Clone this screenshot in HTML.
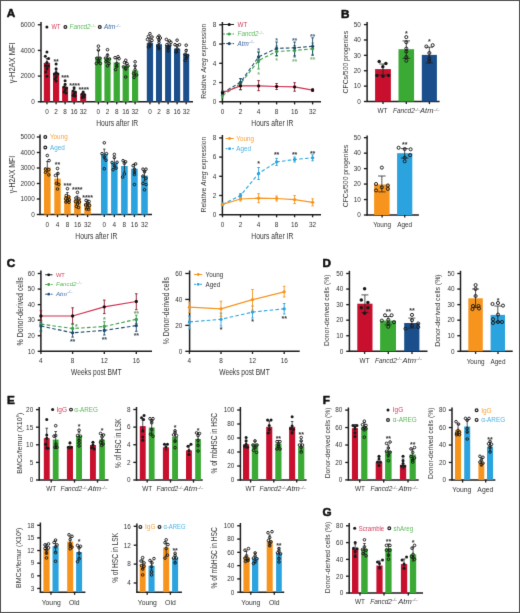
<!DOCTYPE html>
<html><head><meta charset="utf-8"><style>
html,body{margin:0;padding:0;background:#fff}
svg{display:block;will-change:transform}
text{font-family:"Liberation Sans",sans-serif}
</style></head><body>
<svg width="520" height="613" viewBox="0 0 520 613">
<defs><filter id="bl" x="0" y="0" width="520" height="613" filterUnits="userSpaceOnUse" color-interpolation-filters="sRGB"><feConvolveMatrix order="3" kernelMatrix="0 1 0 1 8 1 0 1 0" divisor="12" edgeMode="duplicate" kernelUnitLength="1"/></filter></defs>
<g filter="url(#bl)">
<rect x="0" y="0" width="520" height="613" fill="#fff"/>
<text x="6.8" y="16.8" font-size="11.7" fill="#111" font-weight="bold" stroke="#111" stroke-width="0.55">A</text>
<line x1="41" y1="22" x2="41" y2="102.35" stroke="#1e1e1e" stroke-width="1.5"/>
<line x1="37.8" y1="24.75" x2="41" y2="24.75" stroke="#1e1e1e" stroke-width="1.35"/>
<text x="34.7" y="27.05" font-size="6.4" fill="#333" text-anchor="end">6000</text>
<line x1="37.8" y1="50.42" x2="41" y2="50.42" stroke="#1e1e1e" stroke-width="1.35"/>
<text x="34.7" y="52.72" font-size="6.4" fill="#333" text-anchor="end">4000</text>
<line x1="37.8" y1="76.08" x2="41" y2="76.08" stroke="#1e1e1e" stroke-width="1.35"/>
<text x="34.7" y="78.38" font-size="6.4" fill="#333" text-anchor="end">2000</text>
<line x1="37.8" y1="101.75" x2="41" y2="101.75" stroke="#1e1e1e" stroke-width="1.35"/>
<text x="34.7" y="104.05" font-size="6.4" fill="#333" text-anchor="end">0</text>
<text transform="translate(14.6,62.8) rotate(-90)" font-size="8.6" fill="#333" text-anchor="middle" textLength="41" lengthAdjust="spacingAndGlyphs">γ-H2AX MFI</text>
<line x1="40.4" y1="101.75" x2="193" y2="101.75" stroke="#1e1e1e" stroke-width="1.5"/>
<line x1="46.95" y1="101.75" x2="46.95" y2="104.35" stroke="#1e1e1e" stroke-width="1.35"/>
<text x="46.95" y="113.6" font-size="6.4" fill="#333" text-anchor="middle">0</text>
<line x1="56.1" y1="101.75" x2="56.1" y2="104.35" stroke="#1e1e1e" stroke-width="1.35"/>
<text x="56.1" y="113.6" font-size="6.4" fill="#333" text-anchor="middle">2</text>
<line x1="65.1" y1="101.75" x2="65.1" y2="104.35" stroke="#1e1e1e" stroke-width="1.35"/>
<text x="65.1" y="113.6" font-size="6.4" fill="#333" text-anchor="middle">8</text>
<line x1="74.12" y1="101.75" x2="74.12" y2="104.35" stroke="#1e1e1e" stroke-width="1.35"/>
<text x="74.12" y="113.6" font-size="6.4" fill="#333" text-anchor="middle">16</text>
<line x1="83.2" y1="101.75" x2="83.2" y2="104.35" stroke="#1e1e1e" stroke-width="1.35"/>
<text x="83.2" y="113.6" font-size="6.4" fill="#333" text-anchor="middle">32</text>
<line x1="98.4" y1="101.75" x2="98.4" y2="104.35" stroke="#1e1e1e" stroke-width="1.35"/>
<text x="98.4" y="113.6" font-size="6.4" fill="#333" text-anchor="middle">0</text>
<line x1="107.5" y1="101.75" x2="107.5" y2="104.35" stroke="#1e1e1e" stroke-width="1.35"/>
<text x="107.5" y="113.6" font-size="6.4" fill="#333" text-anchor="middle">2</text>
<line x1="116.75" y1="101.75" x2="116.75" y2="104.35" stroke="#1e1e1e" stroke-width="1.35"/>
<text x="116.75" y="113.6" font-size="6.4" fill="#333" text-anchor="middle">8</text>
<line x1="125.75" y1="101.75" x2="125.75" y2="104.35" stroke="#1e1e1e" stroke-width="1.35"/>
<text x="125.75" y="113.6" font-size="6.4" fill="#333" text-anchor="middle">16</text>
<line x1="135.1" y1="101.75" x2="135.1" y2="104.35" stroke="#1e1e1e" stroke-width="1.35"/>
<text x="135.1" y="113.6" font-size="6.4" fill="#333" text-anchor="middle">32</text>
<line x1="149.95" y1="101.75" x2="149.95" y2="104.35" stroke="#1e1e1e" stroke-width="1.35"/>
<text x="149.95" y="113.6" font-size="6.4" fill="#333" text-anchor="middle">0</text>
<line x1="159" y1="101.75" x2="159" y2="104.35" stroke="#1e1e1e" stroke-width="1.35"/>
<text x="159" y="113.6" font-size="6.4" fill="#333" text-anchor="middle">2</text>
<line x1="168.1" y1="101.75" x2="168.1" y2="104.35" stroke="#1e1e1e" stroke-width="1.35"/>
<text x="168.1" y="113.6" font-size="6.4" fill="#333" text-anchor="middle">8</text>
<line x1="177.1" y1="101.75" x2="177.1" y2="104.35" stroke="#1e1e1e" stroke-width="1.35"/>
<text x="177.1" y="113.6" font-size="6.4" fill="#333" text-anchor="middle">16</text>
<line x1="186.2" y1="101.75" x2="186.2" y2="104.35" stroke="#1e1e1e" stroke-width="1.35"/>
<text x="186.2" y="113.6" font-size="6.4" fill="#333" text-anchor="middle">32</text>
<rect x="43.8" y="62.8" width="6.3" height="38.95" fill="#c8102e"/>
<rect x="53" y="72.9" width="6.2" height="28.85" fill="#c8102e"/>
<rect x="62.1" y="86.8" width="6" height="14.95" fill="#c8102e"/>
<rect x="71.25" y="92.1" width="5.75" height="9.65" fill="#c8102e"/>
<rect x="80.2" y="94" width="6" height="7.75" fill="#c8102e"/>
<rect x="95.2" y="57.2" width="6.4" height="44.55" fill="#3aaa35"/>
<rect x="104.4" y="57.7" width="6.2" height="44.05" fill="#3aaa35"/>
<rect x="113.6" y="62.5" width="6.3" height="39.25" fill="#3aaa35"/>
<rect x="122.6" y="65.9" width="6.3" height="35.85" fill="#3aaa35"/>
<rect x="132" y="70.5" width="6.2" height="31.25" fill="#3aaa35"/>
<rect x="146.8" y="42.8" width="6.3" height="58.95" fill="#1a4f8c"/>
<rect x="156" y="44.2" width="6" height="57.55" fill="#1a4f8c"/>
<rect x="165.1" y="45" width="6" height="56.75" fill="#1a4f8c"/>
<rect x="174" y="48.6" width="6.2" height="53.15" fill="#1a4f8c"/>
<rect x="183.2" y="53.8" width="6" height="47.95" fill="#1a4f8c"/>
<line x1="46.95" y1="58.5" x2="46.95" y2="67.5" stroke="#1e1e1e" stroke-width="0.75"/>
<line x1="45.75" y1="58.5" x2="48.15" y2="58.5" stroke="#1e1e1e" stroke-width="0.75"/>
<line x1="45.75" y1="67.5" x2="48.15" y2="67.5" stroke="#1e1e1e" stroke-width="0.75"/>
<circle cx="46.95" cy="51.9" r="1.5" fill="#1a1a1a"/>
<circle cx="45.35" cy="56.3" r="1.5" fill="#1a1a1a"/>
<circle cx="48.55" cy="58.5" r="1.5" fill="#1a1a1a"/>
<circle cx="46.95" cy="62.5" r="1.5" fill="#1a1a1a"/>
<circle cx="45.45" cy="65.7" r="1.5" fill="#1a1a1a"/>
<circle cx="48.45" cy="66" r="1.5" fill="#1a1a1a"/>
<circle cx="46.95" cy="69" r="1.5" fill="#1a1a1a"/>
<circle cx="45.75" cy="72" r="1.5" fill="#1a1a1a"/>
<circle cx="46.95" cy="76.3" r="1.5" fill="#1a1a1a"/>
<line x1="56.1" y1="70" x2="56.1" y2="76" stroke="#1e1e1e" stroke-width="0.75"/>
<line x1="54.9" y1="70" x2="57.3" y2="70" stroke="#1e1e1e" stroke-width="0.75"/>
<line x1="54.9" y1="76" x2="57.3" y2="76" stroke="#1e1e1e" stroke-width="0.75"/>
<circle cx="56.1" cy="64" r="1.5" fill="#1a1a1a"/>
<circle cx="56.1" cy="68.8" r="1.5" fill="#1a1a1a"/>
<circle cx="56.1" cy="72.4" r="1.5" fill="#1a1a1a"/>
<circle cx="54.4" cy="74" r="1.5" fill="#1a1a1a"/>
<circle cx="57.8" cy="74" r="1.5" fill="#1a1a1a"/>
<circle cx="56.1" cy="77" r="1.5" fill="#1a1a1a"/>
<circle cx="55.1" cy="79" r="1.5" fill="#1a1a1a"/>
<circle cx="56.1" cy="81" r="1.5" fill="#1a1a1a"/>
<line x1="65.1" y1="83.5" x2="65.1" y2="90" stroke="#1e1e1e" stroke-width="0.75"/>
<line x1="63.9" y1="83.5" x2="66.3" y2="83.5" stroke="#1e1e1e" stroke-width="0.75"/>
<line x1="63.9" y1="90" x2="66.3" y2="90" stroke="#1e1e1e" stroke-width="0.75"/>
<circle cx="65.1" cy="80.8" r="1.5" fill="#1a1a1a"/>
<circle cx="65.1" cy="84.4" r="1.5" fill="#1a1a1a"/>
<circle cx="63.9" cy="87" r="1.5" fill="#1a1a1a"/>
<circle cx="66.4" cy="88" r="1.5" fill="#1a1a1a"/>
<circle cx="65.1" cy="90" r="1.5" fill="#1a1a1a"/>
<circle cx="64.1" cy="92" r="1.5" fill="#1a1a1a"/>
<circle cx="66.1" cy="93" r="1.5" fill="#1a1a1a"/>
<line x1="74.12" y1="89.5" x2="74.12" y2="94.5" stroke="#1e1e1e" stroke-width="0.75"/>
<line x1="72.92" y1="89.5" x2="75.33" y2="89.5" stroke="#1e1e1e" stroke-width="0.75"/>
<line x1="72.92" y1="94.5" x2="75.33" y2="94.5" stroke="#1e1e1e" stroke-width="0.75"/>
<circle cx="74.12" cy="87.8" r="1.5" fill="#1a1a1a"/>
<circle cx="72.92" cy="91" r="1.5" fill="#1a1a1a"/>
<circle cx="75.42" cy="92" r="1.5" fill="#1a1a1a"/>
<circle cx="74.12" cy="94" r="1.5" fill="#1a1a1a"/>
<circle cx="73.12" cy="95.5" r="1.5" fill="#1a1a1a"/>
<circle cx="75.12" cy="96" r="1.5" fill="#1a1a1a"/>
<line x1="83.2" y1="92.5" x2="83.2" y2="95.5" stroke="#1e1e1e" stroke-width="0.75"/>
<line x1="82" y1="92.5" x2="84.4" y2="92.5" stroke="#1e1e1e" stroke-width="0.75"/>
<line x1="82" y1="95.5" x2="84.4" y2="95.5" stroke="#1e1e1e" stroke-width="0.75"/>
<circle cx="83.2" cy="92.1" r="1.5" fill="#1a1a1a"/>
<circle cx="82" cy="94" r="1.5" fill="#1a1a1a"/>
<circle cx="84.5" cy="94.5" r="1.5" fill="#1a1a1a"/>
<circle cx="83.2" cy="96" r="1.5" fill="#1a1a1a"/>
<circle cx="82.2" cy="97.5" r="1.5" fill="#1a1a1a"/>
<circle cx="84.2" cy="97" r="1.5" fill="#1a1a1a"/>
<line x1="98.4" y1="50.5" x2="98.4" y2="63" stroke="#1e1e1e" stroke-width="0.75"/>
<line x1="97.2" y1="50.5" x2="99.6" y2="50.5" stroke="#1e1e1e" stroke-width="0.75"/>
<line x1="97.2" y1="63" x2="99.6" y2="63" stroke="#1e1e1e" stroke-width="0.75"/>
<circle cx="98.4" cy="46.2" r="1.3" fill="none" stroke="#1a1a1a" stroke-width="0.95"/>
<circle cx="98.4" cy="50" r="1.3" fill="none" stroke="#1a1a1a" stroke-width="0.95"/>
<circle cx="96.9" cy="58.2" r="1.3" fill="none" stroke="#1a1a1a" stroke-width="0.95"/>
<circle cx="99.9" cy="58.2" r="1.3" fill="none" stroke="#1a1a1a" stroke-width="0.95"/>
<circle cx="98.4" cy="61" r="1.3" fill="none" stroke="#1a1a1a" stroke-width="0.95"/>
<circle cx="96.4" cy="63.5" r="1.3" fill="none" stroke="#1a1a1a" stroke-width="0.95"/>
<circle cx="100.4" cy="63.5" r="1.3" fill="none" stroke="#1a1a1a" stroke-width="0.95"/>
<line x1="107.5" y1="54" x2="107.5" y2="61.5" stroke="#1e1e1e" stroke-width="0.75"/>
<line x1="106.3" y1="54" x2="108.7" y2="54" stroke="#1e1e1e" stroke-width="0.75"/>
<line x1="106.3" y1="61.5" x2="108.7" y2="61.5" stroke="#1e1e1e" stroke-width="0.75"/>
<circle cx="107.5" cy="49.7" r="1.3" fill="none" stroke="#1a1a1a" stroke-width="0.95"/>
<circle cx="107.5" cy="55.3" r="1.3" fill="none" stroke="#1a1a1a" stroke-width="0.95"/>
<circle cx="105.5" cy="58.2" r="1.3" fill="none" stroke="#1a1a1a" stroke-width="0.95"/>
<circle cx="109.5" cy="59" r="1.3" fill="none" stroke="#1a1a1a" stroke-width="0.95"/>
<circle cx="106" cy="61.6" r="1.3" fill="none" stroke="#1a1a1a" stroke-width="0.95"/>
<circle cx="109" cy="63.5" r="1.3" fill="none" stroke="#1a1a1a" stroke-width="0.95"/>
<circle cx="107.5" cy="65.9" r="1.3" fill="none" stroke="#1a1a1a" stroke-width="0.95"/>
<line x1="116.75" y1="58.5" x2="116.75" y2="66.5" stroke="#1e1e1e" stroke-width="0.75"/>
<line x1="115.55" y1="58.5" x2="117.95" y2="58.5" stroke="#1e1e1e" stroke-width="0.75"/>
<line x1="115.55" y1="66.5" x2="117.95" y2="66.5" stroke="#1e1e1e" stroke-width="0.75"/>
<circle cx="115.05" cy="57.7" r="1.3" fill="none" stroke="#1a1a1a" stroke-width="0.95"/>
<circle cx="118.05" cy="56.75" r="1.3" fill="none" stroke="#1a1a1a" stroke-width="0.95"/>
<circle cx="119.05" cy="58.7" r="1.3" fill="none" stroke="#1a1a1a" stroke-width="0.95"/>
<circle cx="116.75" cy="63.5" r="1.3" fill="none" stroke="#1a1a1a" stroke-width="0.95"/>
<circle cx="116.75" cy="66.4" r="1.3" fill="none" stroke="#1a1a1a" stroke-width="0.95"/>
<circle cx="115.55" cy="69.7" r="1.3" fill="none" stroke="#1a1a1a" stroke-width="0.95"/>
<line x1="125.75" y1="62" x2="125.75" y2="70" stroke="#1e1e1e" stroke-width="0.75"/>
<line x1="124.55" y1="62" x2="126.95" y2="62" stroke="#1e1e1e" stroke-width="0.75"/>
<line x1="124.55" y1="70" x2="126.95" y2="70" stroke="#1e1e1e" stroke-width="0.75"/>
<circle cx="125.75" cy="60.3" r="1.3" fill="none" stroke="#1a1a1a" stroke-width="0.95"/>
<circle cx="124.45" cy="62.5" r="1.3" fill="none" stroke="#1a1a1a" stroke-width="0.95"/>
<circle cx="126.95" cy="63.5" r="1.3" fill="none" stroke="#1a1a1a" stroke-width="0.95"/>
<circle cx="123.45" cy="66.8" r="1.3" fill="none" stroke="#1a1a1a" stroke-width="0.95"/>
<circle cx="127.95" cy="66" r="1.3" fill="none" stroke="#1a1a1a" stroke-width="0.95"/>
<circle cx="125.75" cy="68.8" r="1.3" fill="none" stroke="#1a1a1a" stroke-width="0.95"/>
<circle cx="125.75" cy="77" r="1.3" fill="none" stroke="#1a1a1a" stroke-width="0.95"/>
<line x1="135.1" y1="66" x2="135.1" y2="75" stroke="#1e1e1e" stroke-width="0.75"/>
<line x1="133.9" y1="66" x2="136.3" y2="66" stroke="#1e1e1e" stroke-width="0.75"/>
<line x1="133.9" y1="75" x2="136.3" y2="75" stroke="#1e1e1e" stroke-width="0.75"/>
<circle cx="135.1" cy="61.8" r="1.3" fill="none" stroke="#1a1a1a" stroke-width="0.95"/>
<circle cx="135.1" cy="65.9" r="1.3" fill="none" stroke="#1a1a1a" stroke-width="0.95"/>
<circle cx="135.1" cy="69.7" r="1.3" fill="none" stroke="#1a1a1a" stroke-width="0.95"/>
<circle cx="133.6" cy="73.6" r="1.3" fill="none" stroke="#1a1a1a" stroke-width="0.95"/>
<circle cx="136.6" cy="75" r="1.3" fill="none" stroke="#1a1a1a" stroke-width="0.95"/>
<circle cx="134.1" cy="77.4" r="1.3" fill="none" stroke="#1a1a1a" stroke-width="0.95"/>
<line x1="149.95" y1="38.5" x2="149.95" y2="47" stroke="#1e1e1e" stroke-width="0.75"/>
<line x1="148.75" y1="38.5" x2="151.15" y2="38.5" stroke="#1e1e1e" stroke-width="0.75"/>
<line x1="148.75" y1="47" x2="151.15" y2="47" stroke="#1e1e1e" stroke-width="0.75"/>
<circle cx="149.95" cy="33.7" r="1.3" fill="none" stroke="#1a1a1a" stroke-width="0.95"/>
<circle cx="148.45" cy="36.5" r="1.3" fill="none" stroke="#1a1a1a" stroke-width="0.95"/>
<circle cx="151.95" cy="37" r="1.3" fill="none" stroke="#1a1a1a" stroke-width="0.95"/>
<circle cx="147.45" cy="39.4" r="1.3" fill="none" stroke="#1a1a1a" stroke-width="0.95"/>
<circle cx="151.95" cy="40.4" r="1.3" fill="none" stroke="#1a1a1a" stroke-width="0.95"/>
<circle cx="149.95" cy="42" r="1.3" fill="none" stroke="#1a1a1a" stroke-width="0.95"/>
<circle cx="149.95" cy="45" r="1.3" fill="none" stroke="#1a1a1a" stroke-width="0.95"/>
<circle cx="148.45" cy="47" r="1.3" fill="none" stroke="#1a1a1a" stroke-width="0.95"/>
<line x1="159" y1="40" x2="159" y2="48.5" stroke="#1e1e1e" stroke-width="0.75"/>
<line x1="157.8" y1="40" x2="160.2" y2="40" stroke="#1e1e1e" stroke-width="0.75"/>
<line x1="157.8" y1="48.5" x2="160.2" y2="48.5" stroke="#1e1e1e" stroke-width="0.75"/>
<circle cx="159" cy="36" r="1.3" fill="none" stroke="#1a1a1a" stroke-width="0.95"/>
<circle cx="157.8" cy="37.5" r="1.3" fill="none" stroke="#1a1a1a" stroke-width="0.95"/>
<circle cx="160.3" cy="38" r="1.3" fill="none" stroke="#1a1a1a" stroke-width="0.95"/>
<circle cx="159" cy="39.9" r="1.3" fill="none" stroke="#1a1a1a" stroke-width="0.95"/>
<circle cx="159" cy="42.5" r="1.3" fill="none" stroke="#1a1a1a" stroke-width="0.95"/>
<circle cx="158" cy="46" r="1.3" fill="none" stroke="#1a1a1a" stroke-width="0.95"/>
<circle cx="159" cy="48.6" r="1.3" fill="none" stroke="#1a1a1a" stroke-width="0.95"/>
<line x1="168.1" y1="41" x2="168.1" y2="49" stroke="#1e1e1e" stroke-width="0.75"/>
<line x1="166.9" y1="41" x2="169.3" y2="41" stroke="#1e1e1e" stroke-width="0.75"/>
<line x1="166.9" y1="49" x2="169.3" y2="49" stroke="#1e1e1e" stroke-width="0.75"/>
<circle cx="166.4" cy="39.4" r="1.3" fill="none" stroke="#1a1a1a" stroke-width="0.95"/>
<circle cx="169.4" cy="40.9" r="1.3" fill="none" stroke="#1a1a1a" stroke-width="0.95"/>
<circle cx="170.9" cy="42.3" r="1.3" fill="none" stroke="#1a1a1a" stroke-width="0.95"/>
<circle cx="166.9" cy="44.7" r="1.3" fill="none" stroke="#1a1a1a" stroke-width="0.95"/>
<circle cx="169.9" cy="45.2" r="1.3" fill="none" stroke="#1a1a1a" stroke-width="0.95"/>
<circle cx="168.1" cy="48" r="1.3" fill="none" stroke="#1a1a1a" stroke-width="0.95"/>
<circle cx="168.1" cy="51" r="1.3" fill="none" stroke="#1a1a1a" stroke-width="0.95"/>
<line x1="177.1" y1="44.5" x2="177.1" y2="52.5" stroke="#1e1e1e" stroke-width="0.75"/>
<line x1="175.9" y1="44.5" x2="178.3" y2="44.5" stroke="#1e1e1e" stroke-width="0.75"/>
<line x1="175.9" y1="52.5" x2="178.3" y2="52.5" stroke="#1e1e1e" stroke-width="0.75"/>
<circle cx="177.1" cy="40.2" r="1.3" fill="none" stroke="#1a1a1a" stroke-width="0.95"/>
<circle cx="175" cy="44.7" r="1.3" fill="none" stroke="#1a1a1a" stroke-width="0.95"/>
<circle cx="179.5" cy="44.7" r="1.3" fill="none" stroke="#1a1a1a" stroke-width="0.95"/>
<circle cx="177.1" cy="45.7" r="1.3" fill="none" stroke="#1a1a1a" stroke-width="0.95"/>
<circle cx="177.1" cy="49" r="1.3" fill="none" stroke="#1a1a1a" stroke-width="0.95"/>
<circle cx="176.1" cy="52" r="1.3" fill="none" stroke="#1a1a1a" stroke-width="0.95"/>
<line x1="186.2" y1="49.5" x2="186.2" y2="58" stroke="#1e1e1e" stroke-width="0.75"/>
<line x1="185" y1="49.5" x2="187.4" y2="49.5" stroke="#1e1e1e" stroke-width="0.75"/>
<line x1="185" y1="58" x2="187.4" y2="58" stroke="#1e1e1e" stroke-width="0.75"/>
<circle cx="186.2" cy="45.2" r="1.3" fill="none" stroke="#1a1a1a" stroke-width="0.95"/>
<circle cx="186.2" cy="50.5" r="1.3" fill="none" stroke="#1a1a1a" stroke-width="0.95"/>
<circle cx="185" cy="54.3" r="1.3" fill="none" stroke="#1a1a1a" stroke-width="0.95"/>
<circle cx="187.5" cy="55.8" r="1.3" fill="none" stroke="#1a1a1a" stroke-width="0.95"/>
<circle cx="186.2" cy="58" r="1.3" fill="none" stroke="#1a1a1a" stroke-width="0.95"/>
<circle cx="185.2" cy="60.5" r="1.3" fill="none" stroke="#1a1a1a" stroke-width="0.95"/>
<text x="54.8" y="63.5" font-size="7" fill="#333" text-anchor="middle" font-weight="bold">*</text>
<text x="57.4" y="63.5" font-size="7" fill="#333" text-anchor="middle" font-weight="bold">*</text>
<text x="62.5" y="80.1" font-size="7" fill="#333" text-anchor="middle" font-weight="bold">*</text>
<text x="65.1" y="80.1" font-size="7" fill="#333" text-anchor="middle" font-weight="bold">*</text>
<text x="67.7" y="80.1" font-size="7" fill="#333" text-anchor="middle" font-weight="bold">*</text>
<text x="70.7" y="87.5" font-size="7" fill="#333" text-anchor="middle" font-weight="bold">*</text>
<text x="73.3" y="87.5" font-size="7" fill="#333" text-anchor="middle" font-weight="bold">*</text>
<text x="75.9" y="87.5" font-size="7" fill="#333" text-anchor="middle" font-weight="bold">*</text>
<text x="78.5" y="87.5" font-size="7" fill="#333" text-anchor="middle" font-weight="bold">*</text>
<text x="79.85" y="92.1" font-size="7" fill="#333" text-anchor="middle" font-weight="bold">*</text>
<text x="82.45" y="92.1" font-size="7" fill="#333" text-anchor="middle" font-weight="bold">*</text>
<text x="85.05" y="92.1" font-size="7" fill="#333" text-anchor="middle" font-weight="bold">*</text>
<text x="87.65" y="92.1" font-size="7" fill="#333" text-anchor="middle" font-weight="bold">*</text>
<circle cx="46.9" cy="27" r="1.5" fill="#1a1a1a"/>
<text x="51.5" y="29.2" font-size="6.3" fill="#d23c5a" textLength="8.9" lengthAdjust="spacingAndGlyphs">WT</text>
<circle cx="65.4" cy="27" r="1.4" fill="none" stroke="#1a1a1a" stroke-width="1.15"/>
<text x="69.6" y="29.2" font-size="6.3" fill="#5cb85a" font-style="italic">Fancd2<tspan dy="-2.7" font-size="3.9">–/–</tspan></text>
<circle cx="99.8" cy="27" r="1.4" fill="none" stroke="#1a1a1a" stroke-width="1.15"/>
<text x="104" y="29.2" font-size="6.3" fill="#3f68a0" font-style="italic">Atm<tspan dy="-2.7" font-size="3.9">–/–</tspan></text>
<text x="117.2" y="125.8" font-size="8.6" fill="#333" text-anchor="middle" textLength="42" lengthAdjust="spacingAndGlyphs">Hours after IR</text>
<line x1="222.4" y1="22" x2="222.4" y2="102.4" stroke="#1e1e1e" stroke-width="1.5"/>
<line x1="219.2" y1="24.8" x2="222.4" y2="24.8" stroke="#1e1e1e" stroke-width="1.35"/>
<text x="216.3" y="27.1" font-size="6.4" fill="#333" text-anchor="end">8</text>
<line x1="219.2" y1="44.05" x2="222.4" y2="44.05" stroke="#1e1e1e" stroke-width="1.35"/>
<text x="216.3" y="46.35" font-size="6.4" fill="#333" text-anchor="end">6</text>
<line x1="219.2" y1="63.3" x2="222.4" y2="63.3" stroke="#1e1e1e" stroke-width="1.35"/>
<text x="216.3" y="65.6" font-size="6.4" fill="#333" text-anchor="end">4</text>
<line x1="219.2" y1="82.55" x2="222.4" y2="82.55" stroke="#1e1e1e" stroke-width="1.35"/>
<text x="216.3" y="84.85" font-size="6.4" fill="#333" text-anchor="end">2</text>
<line x1="219.2" y1="101.8" x2="222.4" y2="101.8" stroke="#1e1e1e" stroke-width="1.35"/>
<text x="216.3" y="104.1" font-size="6.4" fill="#333" text-anchor="end">0</text>
<text transform="translate(206.4,61.3) rotate(-90)" font-size="6.9" fill="#333" text-anchor="middle" textLength="75" lengthAdjust="spacingAndGlyphs">Relative <tspan font-style="italic">Areg</tspan> expression</text>
<line x1="221.8" y1="101.8" x2="321" y2="101.8" stroke="#1e1e1e" stroke-width="1.5"/>
<line x1="222.5" y1="101.8" x2="222.5" y2="104.4" stroke="#1e1e1e" stroke-width="1.35"/>
<text x="222.5" y="114" font-size="6.4" fill="#333" text-anchor="middle">0</text>
<line x1="240.5" y1="101.8" x2="240.5" y2="104.4" stroke="#1e1e1e" stroke-width="1.35"/>
<text x="240.5" y="114" font-size="6.4" fill="#333" text-anchor="middle">2</text>
<line x1="258.6" y1="101.8" x2="258.6" y2="104.4" stroke="#1e1e1e" stroke-width="1.35"/>
<text x="258.6" y="114" font-size="6.4" fill="#333" text-anchor="middle">4</text>
<line x1="276.6" y1="101.8" x2="276.6" y2="104.4" stroke="#1e1e1e" stroke-width="1.35"/>
<text x="276.6" y="114" font-size="6.4" fill="#333" text-anchor="middle">8</text>
<line x1="294.6" y1="101.8" x2="294.6" y2="104.4" stroke="#1e1e1e" stroke-width="1.35"/>
<text x="294.6" y="114" font-size="6.4" fill="#333" text-anchor="middle">16</text>
<line x1="312.6" y1="101.8" x2="312.6" y2="104.4" stroke="#1e1e1e" stroke-width="1.35"/>
<text x="312.6" y="114" font-size="6.4" fill="#333" text-anchor="middle">32</text>
<text x="272.3" y="126.1" font-size="8.6" fill="#333" text-anchor="middle" textLength="42" lengthAdjust="spacingAndGlyphs">Hours after IR</text>
<polyline points="222.5,95.4 240.5,83.75 258.6,60.5 276.6,51.4 294.6,50.5 312.6,48.8" fill="none" stroke="#3c9e48" stroke-width="1.1" stroke-dasharray="3.6,2.2"/>
<polyline points="222.5,92.8 240.5,82.3 258.6,56.9 276.6,48.4 294.6,47.8 312.6,46.3" fill="none" stroke="#1f4a6a" stroke-width="1.1" stroke-dasharray="3.6,2.2"/>
<polyline points="222.5,92.8 240.5,85.9 258.6,85.9 276.6,86.5 294.6,86.9 312.6,90.1" fill="none" stroke="#d0304e" stroke-width="1.2"/>
<line x1="222.5" y1="93" x2="222.5" y2="98" stroke="#3c9e48" stroke-width="0.9"/>
<line x1="221.2" y1="93" x2="223.8" y2="93" stroke="#3c9e48" stroke-width="0.9"/>
<line x1="221.2" y1="98" x2="223.8" y2="98" stroke="#3c9e48" stroke-width="0.9"/>
<line x1="222.5" y1="91" x2="222.5" y2="94.5" stroke="#1f4a6a" stroke-width="0.9"/>
<line x1="221.2" y1="91" x2="223.8" y2="91" stroke="#1f4a6a" stroke-width="0.9"/>
<line x1="221.2" y1="94.5" x2="223.8" y2="94.5" stroke="#1f4a6a" stroke-width="0.9"/>
<line x1="222.5" y1="91.3" x2="222.5" y2="94.3" stroke="#8a1a2e" stroke-width="0.9"/>
<line x1="221.2" y1="91.3" x2="223.8" y2="91.3" stroke="#8a1a2e" stroke-width="0.9"/>
<line x1="221.2" y1="94.3" x2="223.8" y2="94.3" stroke="#8a1a2e" stroke-width="0.9"/>
<circle cx="222.5" cy="95.4" r="1.65" fill="#3c9e48"/>
<circle cx="222.5" cy="92.8" r="1.65" fill="#1f4a6a"/>
<circle cx="222.5" cy="92.8" r="1.65" fill="#111"/>
<line x1="240.5" y1="79" x2="240.5" y2="90" stroke="#3c9e48" stroke-width="0.9"/>
<line x1="239.2" y1="79" x2="241.8" y2="79" stroke="#3c9e48" stroke-width="0.9"/>
<line x1="239.2" y1="90" x2="241.8" y2="90" stroke="#3c9e48" stroke-width="0.9"/>
<line x1="240.5" y1="78.5" x2="240.5" y2="86" stroke="#1f4a6a" stroke-width="0.9"/>
<line x1="239.2" y1="78.5" x2="241.8" y2="78.5" stroke="#1f4a6a" stroke-width="0.9"/>
<line x1="239.2" y1="86" x2="241.8" y2="86" stroke="#1f4a6a" stroke-width="0.9"/>
<line x1="240.5" y1="82.7" x2="240.5" y2="89.5" stroke="#8a1a2e" stroke-width="0.9"/>
<line x1="239.2" y1="82.7" x2="241.8" y2="82.7" stroke="#8a1a2e" stroke-width="0.9"/>
<line x1="239.2" y1="89.5" x2="241.8" y2="89.5" stroke="#8a1a2e" stroke-width="0.9"/>
<circle cx="240.5" cy="83.75" r="1.65" fill="#3c9e48"/>
<circle cx="240.5" cy="82.3" r="1.65" fill="#1f4a6a"/>
<circle cx="240.5" cy="85.9" r="1.65" fill="#111"/>
<line x1="258.6" y1="52" x2="258.6" y2="69" stroke="#3c9e48" stroke-width="0.9"/>
<line x1="257.3" y1="52" x2="259.9" y2="52" stroke="#3c9e48" stroke-width="0.9"/>
<line x1="257.3" y1="69" x2="259.9" y2="69" stroke="#3c9e48" stroke-width="0.9"/>
<line x1="258.6" y1="52" x2="258.6" y2="62" stroke="#1f4a6a" stroke-width="0.9"/>
<line x1="257.3" y1="52" x2="259.9" y2="52" stroke="#1f4a6a" stroke-width="0.9"/>
<line x1="257.3" y1="62" x2="259.9" y2="62" stroke="#1f4a6a" stroke-width="0.9"/>
<line x1="258.6" y1="80.6" x2="258.6" y2="90.7" stroke="#8a1a2e" stroke-width="0.9"/>
<line x1="257.3" y1="80.6" x2="259.9" y2="80.6" stroke="#8a1a2e" stroke-width="0.9"/>
<line x1="257.3" y1="90.7" x2="259.9" y2="90.7" stroke="#8a1a2e" stroke-width="0.9"/>
<circle cx="258.6" cy="60.5" r="1.65" fill="#3c9e48"/>
<circle cx="258.6" cy="56.9" r="1.65" fill="#1f4a6a"/>
<circle cx="258.6" cy="85.9" r="1.65" fill="#111"/>
<line x1="276.6" y1="46" x2="276.6" y2="56" stroke="#3c9e48" stroke-width="0.9"/>
<line x1="275.3" y1="46" x2="277.9" y2="46" stroke="#3c9e48" stroke-width="0.9"/>
<line x1="275.3" y1="56" x2="277.9" y2="56" stroke="#3c9e48" stroke-width="0.9"/>
<line x1="276.6" y1="42" x2="276.6" y2="55.6" stroke="#1f4a6a" stroke-width="0.9"/>
<line x1="275.3" y1="42" x2="277.9" y2="42" stroke="#1f4a6a" stroke-width="0.9"/>
<line x1="275.3" y1="55.6" x2="277.9" y2="55.6" stroke="#1f4a6a" stroke-width="0.9"/>
<line x1="276.6" y1="83.5" x2="276.6" y2="89.5" stroke="#8a1a2e" stroke-width="0.9"/>
<line x1="275.3" y1="83.5" x2="277.9" y2="83.5" stroke="#8a1a2e" stroke-width="0.9"/>
<line x1="275.3" y1="89.5" x2="277.9" y2="89.5" stroke="#8a1a2e" stroke-width="0.9"/>
<circle cx="276.6" cy="51.4" r="1.65" fill="#3c9e48"/>
<circle cx="276.6" cy="48.4" r="1.65" fill="#1f4a6a"/>
<circle cx="276.6" cy="86.5" r="1.65" fill="#111"/>
<line x1="294.6" y1="45.5" x2="294.6" y2="55.5" stroke="#3c9e48" stroke-width="0.9"/>
<line x1="293.3" y1="45.5" x2="295.9" y2="45.5" stroke="#3c9e48" stroke-width="0.9"/>
<line x1="293.3" y1="55.5" x2="295.9" y2="55.5" stroke="#3c9e48" stroke-width="0.9"/>
<line x1="294.6" y1="42" x2="294.6" y2="56.9" stroke="#1f4a6a" stroke-width="0.9"/>
<line x1="293.3" y1="42" x2="295.9" y2="42" stroke="#1f4a6a" stroke-width="0.9"/>
<line x1="293.3" y1="56.9" x2="295.9" y2="56.9" stroke="#1f4a6a" stroke-width="0.9"/>
<line x1="294.6" y1="82.7" x2="294.6" y2="91.2" stroke="#8a1a2e" stroke-width="0.9"/>
<line x1="293.3" y1="82.7" x2="295.9" y2="82.7" stroke="#8a1a2e" stroke-width="0.9"/>
<line x1="293.3" y1="91.2" x2="295.9" y2="91.2" stroke="#8a1a2e" stroke-width="0.9"/>
<circle cx="294.6" cy="50.5" r="1.65" fill="#3c9e48"/>
<circle cx="294.6" cy="47.8" r="1.65" fill="#1f4a6a"/>
<circle cx="294.6" cy="86.9" r="1.65" fill="#111"/>
<line x1="312.6" y1="43" x2="312.6" y2="55" stroke="#3c9e48" stroke-width="0.9"/>
<line x1="311.3" y1="43" x2="313.9" y2="43" stroke="#3c9e48" stroke-width="0.9"/>
<line x1="311.3" y1="55" x2="313.9" y2="55" stroke="#3c9e48" stroke-width="0.9"/>
<line x1="312.6" y1="37.8" x2="312.6" y2="55.2" stroke="#1f4a6a" stroke-width="0.9"/>
<line x1="311.3" y1="37.8" x2="313.9" y2="37.8" stroke="#1f4a6a" stroke-width="0.9"/>
<line x1="311.3" y1="55.2" x2="313.9" y2="55.2" stroke="#1f4a6a" stroke-width="0.9"/>
<line x1="312.6" y1="88.7" x2="312.6" y2="91.5" stroke="#8a1a2e" stroke-width="0.9"/>
<line x1="311.3" y1="88.7" x2="313.9" y2="88.7" stroke="#8a1a2e" stroke-width="0.9"/>
<line x1="311.3" y1="91.5" x2="313.9" y2="91.5" stroke="#8a1a2e" stroke-width="0.9"/>
<circle cx="312.6" cy="48.8" r="1.65" fill="#3c9e48"/>
<circle cx="312.6" cy="46.3" r="1.65" fill="#1f4a6a"/>
<circle cx="312.6" cy="90.1" r="1.65" fill="#111"/>
<text x="258.6" y="53.1" font-size="7" fill="#4a6a8a" text-anchor="middle" font-weight="bold">*</text>
<text x="276.6" y="43.4" font-size="7" fill="#4a6a8a" text-anchor="middle" font-weight="bold">*</text>
<text x="293.3" y="43.4" font-size="7" fill="#4a6a8a" text-anchor="middle" font-weight="bold">*</text>
<text x="295.9" y="43.4" font-size="7" fill="#4a6a8a" text-anchor="middle" font-weight="bold">*</text>
<text x="311.3" y="39.1" font-size="7" fill="#4a6a8a" text-anchor="middle" font-weight="bold">*</text>
<text x="313.9" y="39.1" font-size="7" fill="#4a6a8a" text-anchor="middle" font-weight="bold">*</text>
<text x="258.6" y="76.8" font-size="7" fill="#7ab87a" text-anchor="middle" font-weight="bold">*</text>
<text x="276.6" y="63.4" font-size="7" fill="#7ab87a" text-anchor="middle" font-weight="bold">*</text>
<text x="293.3" y="63.6" font-size="7" fill="#7ab87a" text-anchor="middle" font-weight="bold">*</text>
<text x="295.9" y="63.6" font-size="7" fill="#7ab87a" text-anchor="middle" font-weight="bold">*</text>
<text x="311.3" y="62" font-size="7" fill="#7ab87a" text-anchor="middle" font-weight="bold">*</text>
<text x="313.9" y="62" font-size="7" fill="#7ab87a" text-anchor="middle" font-weight="bold">*</text>
<line x1="223" y1="24.5" x2="234" y2="24.5" stroke="#222" stroke-width="1"/>
<circle cx="229.2" cy="24.5" r="1.55" fill="#111"/>
<text x="237.6" y="26.7" font-size="6.3" fill="#d23c5a">WT</text>
<line x1="223" y1="34" x2="234" y2="34" stroke="#3c9e48" stroke-width="1" stroke-dasharray="2,1.2"/>
<circle cx="229.2" cy="34" r="1.55" fill="#3c9e48"/>
<text x="237.6" y="36.2" font-size="6.3" fill="#5cb85a" font-style="italic">Fancd2<tspan dy="-2.7" font-size="3.9">–/–</tspan></text>
<line x1="223" y1="43.6" x2="234" y2="43.6" stroke="#1f4a6a" stroke-width="1" stroke-dasharray="2,1.2"/>
<circle cx="229.2" cy="43.6" r="1.55" fill="#1f4a6a"/>
<text x="237.6" y="45.8" font-size="6.3" fill="#3f68a0" font-style="italic">Atm<tspan dy="-2.7" font-size="3.9">–/–</tspan></text>
<line x1="40" y1="134.5" x2="40" y2="215.1" stroke="#1e1e1e" stroke-width="1.5"/>
<line x1="36.8" y1="137" x2="40" y2="137" stroke="#1e1e1e" stroke-width="1.35"/>
<text x="34.7" y="139.3" font-size="6.4" fill="#333" text-anchor="end">5000</text>
<line x1="36.8" y1="152.5" x2="40" y2="152.5" stroke="#1e1e1e" stroke-width="1.35"/>
<text x="34.7" y="154.8" font-size="6.4" fill="#333" text-anchor="end">4000</text>
<line x1="36.8" y1="168" x2="40" y2="168" stroke="#1e1e1e" stroke-width="1.35"/>
<text x="34.7" y="170.3" font-size="6.4" fill="#333" text-anchor="end">3000</text>
<line x1="36.8" y1="183.5" x2="40" y2="183.5" stroke="#1e1e1e" stroke-width="1.35"/>
<text x="34.7" y="185.8" font-size="6.4" fill="#333" text-anchor="end">2000</text>
<line x1="36.8" y1="199" x2="40" y2="199" stroke="#1e1e1e" stroke-width="1.35"/>
<text x="34.7" y="201.3" font-size="6.4" fill="#333" text-anchor="end">1000</text>
<line x1="36.8" y1="214.5" x2="40" y2="214.5" stroke="#1e1e1e" stroke-width="1.35"/>
<text x="34.7" y="216.8" font-size="6.4" fill="#333" text-anchor="end">0</text>
<text transform="translate(14.6,174.6) rotate(-90)" font-size="8.6" fill="#333" text-anchor="middle" textLength="37.3" lengthAdjust="spacingAndGlyphs">γ-H2AX MFI</text>
<line x1="39.4" y1="214.5" x2="152" y2="214.5" stroke="#1e1e1e" stroke-width="1.5"/>
<line x1="47.3" y1="214.5" x2="47.3" y2="217.1" stroke="#1e1e1e" stroke-width="1.35"/>
<text x="47.3" y="226.6" font-size="6.4" fill="#333" text-anchor="middle">0</text>
<line x1="57.5" y1="214.5" x2="57.5" y2="217.1" stroke="#1e1e1e" stroke-width="1.35"/>
<text x="57.5" y="226.6" font-size="6.4" fill="#333" text-anchor="middle">4</text>
<line x1="67.45" y1="214.5" x2="67.45" y2="217.1" stroke="#1e1e1e" stroke-width="1.35"/>
<text x="67.45" y="226.6" font-size="6.4" fill="#333" text-anchor="middle">8</text>
<line x1="77.45" y1="214.5" x2="77.45" y2="217.1" stroke="#1e1e1e" stroke-width="1.35"/>
<text x="77.45" y="226.6" font-size="6.4" fill="#333" text-anchor="middle">16</text>
<line x1="87.6" y1="214.5" x2="87.6" y2="217.1" stroke="#1e1e1e" stroke-width="1.35"/>
<text x="87.6" y="226.6" font-size="6.4" fill="#333" text-anchor="middle">32</text>
<line x1="104.3" y1="214.5" x2="104.3" y2="217.1" stroke="#1e1e1e" stroke-width="1.35"/>
<text x="104.3" y="226.6" font-size="6.4" fill="#333" text-anchor="middle">0</text>
<line x1="114.35" y1="214.5" x2="114.35" y2="217.1" stroke="#1e1e1e" stroke-width="1.35"/>
<text x="114.35" y="226.6" font-size="6.4" fill="#333" text-anchor="middle">4</text>
<line x1="124.4" y1="214.5" x2="124.4" y2="217.1" stroke="#1e1e1e" stroke-width="1.35"/>
<text x="124.4" y="226.6" font-size="6.4" fill="#333" text-anchor="middle">8</text>
<line x1="134.4" y1="214.5" x2="134.4" y2="217.1" stroke="#1e1e1e" stroke-width="1.35"/>
<text x="134.4" y="226.6" font-size="6.4" fill="#333" text-anchor="middle">16</text>
<line x1="144.5" y1="214.5" x2="144.5" y2="217.1" stroke="#1e1e1e" stroke-width="1.35"/>
<text x="144.5" y="226.6" font-size="6.4" fill="#333" text-anchor="middle">32</text>
<rect x="44" y="167.5" width="6.6" height="47" fill="#f7941d"/>
<rect x="54.3" y="178.6" width="6.4" height="35.9" fill="#f7941d"/>
<rect x="64.2" y="196" width="6.5" height="18.5" fill="#f7941d"/>
<rect x="74.1" y="199" width="6.7" height="15.5" fill="#f7941d"/>
<rect x="84.3" y="203" width="6.6" height="11.5" fill="#f7941d"/>
<rect x="101" y="153.9" width="6.6" height="60.6" fill="#2ba3de"/>
<rect x="111.1" y="162.3" width="6.5" height="52.2" fill="#2ba3de"/>
<rect x="121.1" y="166" width="6.6" height="48.5" fill="#2ba3de"/>
<rect x="131.1" y="168.7" width="6.6" height="45.8" fill="#2ba3de"/>
<rect x="141.2" y="175.6" width="6.6" height="38.9" fill="#2ba3de"/>
<line x1="47.3" y1="161.5" x2="47.3" y2="172" stroke="#1e1e1e" stroke-width="0.75"/>
<line x1="46.1" y1="161.5" x2="48.5" y2="161.5" stroke="#1e1e1e" stroke-width="0.75"/>
<line x1="46.1" y1="172" x2="48.5" y2="172" stroke="#1e1e1e" stroke-width="0.75"/>
<circle cx="47.3" cy="155.5" r="1.3" fill="none" stroke="#1a1a1a" stroke-width="0.95"/>
<circle cx="49.1" cy="160.6" r="1.3" fill="none" stroke="#1a1a1a" stroke-width="0.95"/>
<circle cx="45.5" cy="169.1" r="1.3" fill="none" stroke="#1a1a1a" stroke-width="0.95"/>
<circle cx="48.8" cy="169.6" r="1.3" fill="none" stroke="#1a1a1a" stroke-width="0.95"/>
<circle cx="45.5" cy="172.3" r="1.3" fill="none" stroke="#1a1a1a" stroke-width="0.95"/>
<circle cx="48.8" cy="174.9" r="1.3" fill="none" stroke="#1a1a1a" stroke-width="0.95"/>
<line x1="57.5" y1="173" x2="57.5" y2="184" stroke="#1e1e1e" stroke-width="0.75"/>
<line x1="56.3" y1="173" x2="58.7" y2="173" stroke="#1e1e1e" stroke-width="0.75"/>
<line x1="56.3" y1="184" x2="58.7" y2="184" stroke="#1e1e1e" stroke-width="0.75"/>
<circle cx="57.5" cy="168.5" r="1.3" fill="none" stroke="#1a1a1a" stroke-width="0.95"/>
<circle cx="58" cy="173.5" r="1.3" fill="none" stroke="#1a1a1a" stroke-width="0.95"/>
<circle cx="55.5" cy="175.4" r="1.3" fill="none" stroke="#1a1a1a" stroke-width="0.95"/>
<circle cx="56.5" cy="183.4" r="1.3" fill="none" stroke="#1a1a1a" stroke-width="0.95"/>
<circle cx="58.7" cy="184.4" r="1.3" fill="none" stroke="#1a1a1a" stroke-width="0.95"/>
<circle cx="57.5" cy="189" r="1.3" fill="none" stroke="#1a1a1a" stroke-width="0.95"/>
<line x1="67.45" y1="192.5" x2="67.45" y2="199.5" stroke="#1e1e1e" stroke-width="0.75"/>
<line x1="66.25" y1="192.5" x2="68.65" y2="192.5" stroke="#1e1e1e" stroke-width="0.75"/>
<line x1="66.25" y1="199.5" x2="68.65" y2="199.5" stroke="#1e1e1e" stroke-width="0.75"/>
<circle cx="67.45" cy="188.7" r="1.3" fill="none" stroke="#1a1a1a" stroke-width="0.95"/>
<circle cx="66.25" cy="195.5" r="1.3" fill="none" stroke="#1a1a1a" stroke-width="0.95"/>
<circle cx="68.65" cy="196.6" r="1.3" fill="none" stroke="#1a1a1a" stroke-width="0.95"/>
<circle cx="65.65" cy="198.8" r="1.3" fill="none" stroke="#1a1a1a" stroke-width="0.95"/>
<circle cx="69.25" cy="199.8" r="1.3" fill="none" stroke="#1a1a1a" stroke-width="0.95"/>
<circle cx="67.45" cy="201" r="1.3" fill="none" stroke="#1a1a1a" stroke-width="0.95"/>
<circle cx="65.95" cy="202" r="1.3" fill="none" stroke="#1a1a1a" stroke-width="0.95"/>
<circle cx="68.95" cy="202.3" r="1.3" fill="none" stroke="#1a1a1a" stroke-width="0.95"/>
<line x1="77.45" y1="196" x2="77.45" y2="203" stroke="#1e1e1e" stroke-width="0.75"/>
<line x1="76.25" y1="196" x2="78.65" y2="196" stroke="#1e1e1e" stroke-width="0.75"/>
<line x1="76.25" y1="203" x2="78.65" y2="203" stroke="#1e1e1e" stroke-width="0.75"/>
<circle cx="77.45" cy="192.4" r="1.3" fill="none" stroke="#1a1a1a" stroke-width="0.95"/>
<circle cx="75.95" cy="198" r="1.3" fill="none" stroke="#1a1a1a" stroke-width="0.95"/>
<circle cx="78.95" cy="199" r="1.3" fill="none" stroke="#1a1a1a" stroke-width="0.95"/>
<circle cx="75.45" cy="201.5" r="1.3" fill="none" stroke="#1a1a1a" stroke-width="0.95"/>
<circle cx="79.45" cy="202" r="1.3" fill="none" stroke="#1a1a1a" stroke-width="0.95"/>
<circle cx="77.45" cy="204" r="1.3" fill="none" stroke="#1a1a1a" stroke-width="0.95"/>
<circle cx="76.45" cy="206.5" r="1.3" fill="none" stroke="#1a1a1a" stroke-width="0.95"/>
<circle cx="78.45" cy="207.5" r="1.3" fill="none" stroke="#1a1a1a" stroke-width="0.95"/>
<line x1="87.6" y1="200" x2="87.6" y2="206" stroke="#1e1e1e" stroke-width="0.75"/>
<line x1="86.4" y1="200" x2="88.8" y2="200" stroke="#1e1e1e" stroke-width="0.75"/>
<line x1="86.4" y1="206" x2="88.8" y2="206" stroke="#1e1e1e" stroke-width="0.75"/>
<circle cx="86.1" cy="200.5" r="1.3" fill="none" stroke="#1a1a1a" stroke-width="0.95"/>
<circle cx="89.1" cy="201.5" r="1.3" fill="none" stroke="#1a1a1a" stroke-width="0.95"/>
<circle cx="87.6" cy="203" r="1.3" fill="none" stroke="#1a1a1a" stroke-width="0.95"/>
<circle cx="85.6" cy="205" r="1.3" fill="none" stroke="#1a1a1a" stroke-width="0.95"/>
<circle cx="89.6" cy="205.5" r="1.3" fill="none" stroke="#1a1a1a" stroke-width="0.95"/>
<circle cx="87.6" cy="207.5" r="1.3" fill="none" stroke="#1a1a1a" stroke-width="0.95"/>
<circle cx="86.6" cy="209" r="1.3" fill="none" stroke="#1a1a1a" stroke-width="0.95"/>
<circle cx="88.6" cy="209.3" r="1.3" fill="none" stroke="#1a1a1a" stroke-width="0.95"/>
<line x1="104.3" y1="149.1" x2="104.3" y2="159" stroke="#1e1e1e" stroke-width="0.75"/>
<line x1="103.1" y1="149.1" x2="105.5" y2="149.1" stroke="#1e1e1e" stroke-width="0.75"/>
<line x1="103.1" y1="159" x2="105.5" y2="159" stroke="#1e1e1e" stroke-width="0.75"/>
<circle cx="104.3" cy="142.8" r="1.3" fill="none" stroke="#1a1a1a" stroke-width="0.95"/>
<circle cx="102" cy="153.7" r="1.3" fill="none" stroke="#1a1a1a" stroke-width="0.95"/>
<circle cx="106.5" cy="153.7" r="1.3" fill="none" stroke="#1a1a1a" stroke-width="0.95"/>
<circle cx="104.3" cy="157" r="1.3" fill="none" stroke="#1a1a1a" stroke-width="0.95"/>
<circle cx="106" cy="160.2" r="1.3" fill="none" stroke="#1a1a1a" stroke-width="0.95"/>
<circle cx="104.3" cy="168.7" r="1.3" fill="none" stroke="#1a1a1a" stroke-width="0.95"/>
<line x1="114.35" y1="158" x2="114.35" y2="167" stroke="#1e1e1e" stroke-width="0.75"/>
<line x1="113.15" y1="158" x2="115.55" y2="158" stroke="#1e1e1e" stroke-width="0.75"/>
<line x1="113.15" y1="167" x2="115.55" y2="167" stroke="#1e1e1e" stroke-width="0.75"/>
<circle cx="114.35" cy="154.4" r="1.3" fill="none" stroke="#1a1a1a" stroke-width="0.95"/>
<circle cx="114.35" cy="157.6" r="1.3" fill="none" stroke="#1a1a1a" stroke-width="0.95"/>
<circle cx="112.05" cy="162.5" r="1.3" fill="none" stroke="#1a1a1a" stroke-width="0.95"/>
<circle cx="117.05" cy="162.3" r="1.3" fill="none" stroke="#1a1a1a" stroke-width="0.95"/>
<circle cx="114.35" cy="165.5" r="1.3" fill="none" stroke="#1a1a1a" stroke-width="0.95"/>
<circle cx="113.05" cy="169.7" r="1.3" fill="none" stroke="#1a1a1a" stroke-width="0.95"/>
<circle cx="116.05" cy="168.1" r="1.3" fill="none" stroke="#1a1a1a" stroke-width="0.95"/>
<line x1="124.4" y1="161" x2="124.4" y2="172" stroke="#1e1e1e" stroke-width="0.75"/>
<line x1="123.2" y1="161" x2="125.6" y2="161" stroke="#1e1e1e" stroke-width="0.75"/>
<line x1="123.2" y1="172" x2="125.6" y2="172" stroke="#1e1e1e" stroke-width="0.75"/>
<circle cx="123.1" cy="160.7" r="1.3" fill="none" stroke="#1a1a1a" stroke-width="0.95"/>
<circle cx="125.6" cy="161.8" r="1.3" fill="none" stroke="#1a1a1a" stroke-width="0.95"/>
<circle cx="124.4" cy="163.4" r="1.3" fill="none" stroke="#1a1a1a" stroke-width="0.95"/>
<circle cx="124.4" cy="174" r="1.3" fill="none" stroke="#1a1a1a" stroke-width="0.95"/>
<circle cx="122.6" cy="177.1" r="1.3" fill="none" stroke="#1a1a1a" stroke-width="0.95"/>
<line x1="134.4" y1="164" x2="134.4" y2="174" stroke="#1e1e1e" stroke-width="0.75"/>
<line x1="133.2" y1="164" x2="135.6" y2="164" stroke="#1e1e1e" stroke-width="0.75"/>
<line x1="133.2" y1="174" x2="135.6" y2="174" stroke="#1e1e1e" stroke-width="0.75"/>
<circle cx="133.1" cy="165.7" r="1.3" fill="none" stroke="#1a1a1a" stroke-width="0.95"/>
<circle cx="135.6" cy="163.9" r="1.3" fill="none" stroke="#1a1a1a" stroke-width="0.95"/>
<circle cx="134.4" cy="169.2" r="1.3" fill="none" stroke="#1a1a1a" stroke-width="0.95"/>
<circle cx="134.4" cy="171.9" r="1.3" fill="none" stroke="#1a1a1a" stroke-width="0.95"/>
<circle cx="134.4" cy="174.5" r="1.3" fill="none" stroke="#1a1a1a" stroke-width="0.95"/>
<circle cx="134.4" cy="184.5" r="1.3" fill="none" stroke="#1a1a1a" stroke-width="0.95"/>
<line x1="144.5" y1="171" x2="144.5" y2="181" stroke="#1e1e1e" stroke-width="0.75"/>
<line x1="143.3" y1="171" x2="145.7" y2="171" stroke="#1e1e1e" stroke-width="0.75"/>
<line x1="143.3" y1="181" x2="145.7" y2="181" stroke="#1e1e1e" stroke-width="0.75"/>
<circle cx="143" cy="169.2" r="1.3" fill="none" stroke="#1a1a1a" stroke-width="0.95"/>
<circle cx="146" cy="169.2" r="1.3" fill="none" stroke="#1a1a1a" stroke-width="0.95"/>
<circle cx="144.5" cy="171.9" r="1.3" fill="none" stroke="#1a1a1a" stroke-width="0.95"/>
<circle cx="143" cy="176.1" r="1.3" fill="none" stroke="#1a1a1a" stroke-width="0.95"/>
<circle cx="146" cy="178.2" r="1.3" fill="none" stroke="#1a1a1a" stroke-width="0.95"/>
<circle cx="143" cy="183.5" r="1.3" fill="none" stroke="#1a1a1a" stroke-width="0.95"/>
<circle cx="146" cy="184.5" r="1.3" fill="none" stroke="#1a1a1a" stroke-width="0.95"/>
<circle cx="144.5" cy="189.8" r="1.3" fill="none" stroke="#1a1a1a" stroke-width="0.95"/>
<text x="56.2" y="167.4" font-size="7" fill="#333" text-anchor="middle" font-weight="bold">*</text>
<text x="58.8" y="167.4" font-size="7" fill="#333" text-anchor="middle" font-weight="bold">*</text>
<text x="64.9" y="187.7" font-size="7" fill="#333" text-anchor="middle" font-weight="bold">*</text>
<text x="67.5" y="187.7" font-size="7" fill="#333" text-anchor="middle" font-weight="bold">*</text>
<text x="70.1" y="187.7" font-size="7" fill="#333" text-anchor="middle" font-weight="bold">*</text>
<text x="73.4" y="191.5" font-size="7" fill="#333" text-anchor="middle" font-weight="bold">*</text>
<text x="76" y="191.5" font-size="7" fill="#333" text-anchor="middle" font-weight="bold">*</text>
<text x="78.6" y="191.5" font-size="7" fill="#333" text-anchor="middle" font-weight="bold">*</text>
<text x="81.2" y="191.5" font-size="7" fill="#333" text-anchor="middle" font-weight="bold">*</text>
<text x="83.7" y="200.2" font-size="7" fill="#333" text-anchor="middle" font-weight="bold">*</text>
<text x="86.3" y="200.2" font-size="7" fill="#333" text-anchor="middle" font-weight="bold">*</text>
<text x="88.9" y="200.2" font-size="7" fill="#333" text-anchor="middle" font-weight="bold">*</text>
<text x="91.5" y="200.2" font-size="7" fill="#333" text-anchor="middle" font-weight="bold">*</text>
<circle cx="45.3" cy="137" r="1.4" fill="none" stroke="#1a1a1a" stroke-width="1.15"/>
<text x="50" y="139.3" font-size="6.3" fill="#f8a23c">Young</text>
<circle cx="45.3" cy="147.5" r="1.4" fill="none" stroke="#1a1a1a" stroke-width="1.15"/>
<text x="50" y="149.8" font-size="6.3" fill="#4cb2e4">Aged</text>
<text x="96.3" y="238.6" font-size="8.6" fill="#333" text-anchor="middle" textLength="42" lengthAdjust="spacingAndGlyphs">Hours after IR</text>
<line x1="222.4" y1="135" x2="222.4" y2="215.3" stroke="#1e1e1e" stroke-width="1.5"/>
<line x1="219.2" y1="137.9" x2="222.4" y2="137.9" stroke="#1e1e1e" stroke-width="1.35"/>
<text x="216.3" y="140.2" font-size="6.4" fill="#333" text-anchor="end">8</text>
<line x1="219.2" y1="157.1" x2="222.4" y2="157.1" stroke="#1e1e1e" stroke-width="1.35"/>
<text x="216.3" y="159.4" font-size="6.4" fill="#333" text-anchor="end">6</text>
<line x1="219.2" y1="176.3" x2="222.4" y2="176.3" stroke="#1e1e1e" stroke-width="1.35"/>
<text x="216.3" y="178.6" font-size="6.4" fill="#333" text-anchor="end">4</text>
<line x1="219.2" y1="195.5" x2="222.4" y2="195.5" stroke="#1e1e1e" stroke-width="1.35"/>
<text x="216.3" y="197.8" font-size="6.4" fill="#333" text-anchor="end">2</text>
<line x1="219.2" y1="214.7" x2="222.4" y2="214.7" stroke="#1e1e1e" stroke-width="1.35"/>
<text x="216.3" y="217" font-size="6.4" fill="#333" text-anchor="end">0</text>
<text transform="translate(206.1,174.5) rotate(-90)" font-size="6.9" fill="#333" text-anchor="middle" textLength="75.8" lengthAdjust="spacingAndGlyphs">Relative <tspan font-style="italic">Areg</tspan> expression</text>
<line x1="221.8" y1="214.7" x2="321" y2="214.7" stroke="#1e1e1e" stroke-width="1.5"/>
<line x1="222.5" y1="214.7" x2="222.5" y2="217.3" stroke="#1e1e1e" stroke-width="1.35"/>
<text x="222.5" y="226.9" font-size="6.4" fill="#333" text-anchor="middle">0</text>
<line x1="240.5" y1="214.7" x2="240.5" y2="217.3" stroke="#1e1e1e" stroke-width="1.35"/>
<text x="240.5" y="226.9" font-size="6.4" fill="#333" text-anchor="middle">2</text>
<line x1="258.6" y1="214.7" x2="258.6" y2="217.3" stroke="#1e1e1e" stroke-width="1.35"/>
<text x="258.6" y="226.9" font-size="6.4" fill="#333" text-anchor="middle">4</text>
<line x1="276.6" y1="214.7" x2="276.6" y2="217.3" stroke="#1e1e1e" stroke-width="1.35"/>
<text x="276.6" y="226.9" font-size="6.4" fill="#333" text-anchor="middle">8</text>
<line x1="294.6" y1="214.7" x2="294.6" y2="217.3" stroke="#1e1e1e" stroke-width="1.35"/>
<text x="294.6" y="226.9" font-size="6.4" fill="#333" text-anchor="middle">16</text>
<line x1="312.6" y1="214.7" x2="312.6" y2="217.3" stroke="#1e1e1e" stroke-width="1.35"/>
<text x="312.6" y="226.9" font-size="6.4" fill="#333" text-anchor="middle">32</text>
<text x="272.3" y="239" font-size="8.6" fill="#333" text-anchor="middle" textLength="42" lengthAdjust="spacingAndGlyphs">Hours after IR</text>
<polyline points="222.5,204.4 240.5,195.5 258.6,173.5 276.6,161.9 294.6,159.5 312.6,157.8" fill="none" stroke="#2ba3de" stroke-width="1.1" stroke-dasharray="3.6,2.2"/>
<polyline points="222.5,204.4 240.5,199 258.6,198.2 276.6,198.5 294.6,199.6 312.6,202.3" fill="none" stroke="#f7941d" stroke-width="1.2"/>
<line x1="222.5" y1="202.9" x2="222.5" y2="205.9" stroke="#2ba3de" stroke-width="0.9"/>
<line x1="221.2" y1="202.9" x2="223.8" y2="202.9" stroke="#2ba3de" stroke-width="0.9"/>
<line x1="221.2" y1="205.9" x2="223.8" y2="205.9" stroke="#2ba3de" stroke-width="0.9"/>
<line x1="222.5" y1="203.4" x2="222.5" y2="205.4" stroke="#f7941d" stroke-width="0.9"/>
<line x1="221.2" y1="203.4" x2="223.8" y2="203.4" stroke="#f7941d" stroke-width="0.9"/>
<line x1="221.2" y1="205.4" x2="223.8" y2="205.4" stroke="#f7941d" stroke-width="0.9"/>
<circle cx="222.5" cy="204.4" r="1.65" fill="#2ba3de"/>
<circle cx="222.5" cy="204.4" r="1.65" fill="#f7941d"/>
<line x1="240.5" y1="193.5" x2="240.5" y2="197.5" stroke="#2ba3de" stroke-width="0.9"/>
<line x1="239.2" y1="193.5" x2="241.8" y2="193.5" stroke="#2ba3de" stroke-width="0.9"/>
<line x1="239.2" y1="197.5" x2="241.8" y2="197.5" stroke="#2ba3de" stroke-width="0.9"/>
<line x1="240.5" y1="197" x2="240.5" y2="201" stroke="#f7941d" stroke-width="0.9"/>
<line x1="239.2" y1="197" x2="241.8" y2="197" stroke="#f7941d" stroke-width="0.9"/>
<line x1="239.2" y1="201" x2="241.8" y2="201" stroke="#f7941d" stroke-width="0.9"/>
<circle cx="240.5" cy="195.5" r="1.65" fill="#2ba3de"/>
<circle cx="240.5" cy="199" r="1.65" fill="#f7941d"/>
<line x1="258.6" y1="167.5" x2="258.6" y2="179.5" stroke="#2ba3de" stroke-width="0.9"/>
<line x1="257.3" y1="167.5" x2="259.9" y2="167.5" stroke="#2ba3de" stroke-width="0.9"/>
<line x1="257.3" y1="179.5" x2="259.9" y2="179.5" stroke="#2ba3de" stroke-width="0.9"/>
<line x1="258.6" y1="193.7" x2="258.6" y2="202.7" stroke="#f7941d" stroke-width="0.9"/>
<line x1="257.3" y1="193.7" x2="259.9" y2="193.7" stroke="#f7941d" stroke-width="0.9"/>
<line x1="257.3" y1="202.7" x2="259.9" y2="202.7" stroke="#f7941d" stroke-width="0.9"/>
<circle cx="258.6" cy="173.5" r="1.65" fill="#2ba3de"/>
<circle cx="258.6" cy="198.2" r="1.65" fill="#f7941d"/>
<line x1="276.6" y1="158.4" x2="276.6" y2="165.4" stroke="#2ba3de" stroke-width="0.9"/>
<line x1="275.3" y1="158.4" x2="277.9" y2="158.4" stroke="#2ba3de" stroke-width="0.9"/>
<line x1="275.3" y1="165.4" x2="277.9" y2="165.4" stroke="#2ba3de" stroke-width="0.9"/>
<line x1="276.6" y1="196" x2="276.6" y2="201" stroke="#f7941d" stroke-width="0.9"/>
<line x1="275.3" y1="196" x2="277.9" y2="196" stroke="#f7941d" stroke-width="0.9"/>
<line x1="275.3" y1="201" x2="277.9" y2="201" stroke="#f7941d" stroke-width="0.9"/>
<circle cx="276.6" cy="161.9" r="1.65" fill="#2ba3de"/>
<circle cx="276.6" cy="198.5" r="1.65" fill="#f7941d"/>
<line x1="294.6" y1="157" x2="294.6" y2="162" stroke="#2ba3de" stroke-width="0.9"/>
<line x1="293.3" y1="157" x2="295.9" y2="157" stroke="#2ba3de" stroke-width="0.9"/>
<line x1="293.3" y1="162" x2="295.9" y2="162" stroke="#2ba3de" stroke-width="0.9"/>
<line x1="294.6" y1="195.6" x2="294.6" y2="203.6" stroke="#f7941d" stroke-width="0.9"/>
<line x1="293.3" y1="195.6" x2="295.9" y2="195.6" stroke="#f7941d" stroke-width="0.9"/>
<line x1="293.3" y1="203.6" x2="295.9" y2="203.6" stroke="#f7941d" stroke-width="0.9"/>
<circle cx="294.6" cy="159.5" r="1.65" fill="#2ba3de"/>
<circle cx="294.6" cy="199.6" r="1.65" fill="#f7941d"/>
<line x1="312.6" y1="154.8" x2="312.6" y2="160.8" stroke="#2ba3de" stroke-width="0.9"/>
<line x1="311.3" y1="154.8" x2="313.9" y2="154.8" stroke="#2ba3de" stroke-width="0.9"/>
<line x1="311.3" y1="160.8" x2="313.9" y2="160.8" stroke="#2ba3de" stroke-width="0.9"/>
<line x1="312.6" y1="198.8" x2="312.6" y2="205.8" stroke="#f7941d" stroke-width="0.9"/>
<line x1="311.3" y1="198.8" x2="313.9" y2="198.8" stroke="#f7941d" stroke-width="0.9"/>
<line x1="311.3" y1="205.8" x2="313.9" y2="205.8" stroke="#f7941d" stroke-width="0.9"/>
<circle cx="312.6" cy="157.8" r="1.65" fill="#2ba3de"/>
<circle cx="312.6" cy="202.3" r="1.65" fill="#f7941d"/>
<text x="258.6" y="166.3" font-size="7" fill="#333" text-anchor="middle" font-weight="bold">*</text>
<text x="275.3" y="156.9" font-size="7" fill="#333" text-anchor="middle" font-weight="bold">*</text>
<text x="277.9" y="156.9" font-size="7" fill="#333" text-anchor="middle" font-weight="bold">*</text>
<text x="293.3" y="156.9" font-size="7" fill="#333" text-anchor="middle" font-weight="bold">*</text>
<text x="295.9" y="156.9" font-size="7" fill="#333" text-anchor="middle" font-weight="bold">*</text>
<text x="311.3" y="155.6" font-size="7" fill="#333" text-anchor="middle" font-weight="bold">*</text>
<text x="313.9" y="155.6" font-size="7" fill="#333" text-anchor="middle" font-weight="bold">*</text>
<line x1="225.6" y1="138.5" x2="233.7" y2="138.5" stroke="#f7941d" stroke-width="1"/>
<circle cx="229.6" cy="138.5" r="1.4" fill="#f7941d"/>
<text x="236.3" y="140.7" font-size="6.3" fill="#f8a23c">Young</text>
<line x1="225.6" y1="148.7" x2="233.7" y2="148.7" stroke="#2ba3de" stroke-width="1" stroke-dasharray="2,1.2"/>
<circle cx="229.6" cy="148.7" r="1.4" fill="#2ba3de"/>
<text x="236.3" y="150.9" font-size="6.3" fill="#4cb2e4">Aged</text>
<text x="341" y="18.2" font-size="11.7" fill="#111" font-weight="bold" stroke="#111" stroke-width="0.55">B</text>
<line x1="367.1" y1="22" x2="367.1" y2="102.1" stroke="#1e1e1e" stroke-width="1.5"/>
<line x1="363.9" y1="24.6" x2="367.1" y2="24.6" stroke="#1e1e1e" stroke-width="1.35"/>
<text x="360.8" y="26.9" font-size="6.4" fill="#333" text-anchor="end">50</text>
<line x1="363.9" y1="39.98" x2="367.1" y2="39.98" stroke="#1e1e1e" stroke-width="1.35"/>
<text x="360.8" y="42.28" font-size="6.4" fill="#333" text-anchor="end">40</text>
<line x1="363.9" y1="55.36" x2="367.1" y2="55.36" stroke="#1e1e1e" stroke-width="1.35"/>
<text x="360.8" y="57.66" font-size="6.4" fill="#333" text-anchor="end">30</text>
<line x1="363.9" y1="70.74" x2="367.1" y2="70.74" stroke="#1e1e1e" stroke-width="1.35"/>
<text x="360.8" y="73.04" font-size="6.4" fill="#333" text-anchor="end">20</text>
<line x1="363.9" y1="86.12" x2="367.1" y2="86.12" stroke="#1e1e1e" stroke-width="1.35"/>
<text x="360.8" y="88.42" font-size="6.4" fill="#333" text-anchor="end">10</text>
<line x1="363.9" y1="101.5" x2="367.1" y2="101.5" stroke="#1e1e1e" stroke-width="1.35"/>
<text x="360.8" y="103.8" font-size="6.4" fill="#333" text-anchor="end">0</text>
<text transform="translate(347.8,62.2) rotate(-90)" font-size="7.2" fill="#333" text-anchor="middle" textLength="62.5" lengthAdjust="spacingAndGlyphs">CFCs/500 progenies</text>
<line x1="366.5" y1="101.5" x2="439.6" y2="101.5" stroke="#1e1e1e" stroke-width="1.5"/>
<line x1="383" y1="101.5" x2="383" y2="104.1" stroke="#1e1e1e" stroke-width="1.35"/>
<line x1="406.3" y1="101.5" x2="406.3" y2="104.1" stroke="#1e1e1e" stroke-width="1.35"/>
<line x1="429.4" y1="101.5" x2="429.4" y2="104.1" stroke="#1e1e1e" stroke-width="1.35"/>
<text x="382.5" y="113.4" font-size="6.8" fill="#333" text-anchor="middle" textLength="10" lengthAdjust="spacingAndGlyphs">WT</text>
<text x="406.5" y="113.4" font-size="6.8" fill="#333" text-anchor="middle" textLength="27" lengthAdjust="spacingAndGlyphs" font-style="italic">Fancd2<tspan dy="-2.7" font-size="3.9">–/–</tspan></text>
<text x="429.8" y="113.4" font-size="6.8" fill="#333" text-anchor="middle" textLength="19.4" lengthAdjust="spacingAndGlyphs" font-style="italic">Atm<tspan dy="-2.7" font-size="3.9">–/–</tspan></text>
<rect x="375.1" y="69.1" width="15.8" height="32.4" fill="#c8102e"/>
<rect x="398.5" y="49.2" width="15.6" height="52.3" fill="#3aaa35"/>
<rect x="421.8" y="54.9" width="15.1" height="46.6" fill="#1a4f8c"/>
<line x1="383" y1="64" x2="383" y2="75" stroke="#1e1e1e" stroke-width="0.75"/>
<line x1="379.25" y1="64" x2="386.75" y2="64" stroke="#1e1e1e" stroke-width="0.75"/>
<line x1="379.25" y1="75" x2="386.75" y2="75" stroke="#1e1e1e" stroke-width="0.75"/>
<circle cx="379.2" cy="61.6" r="1.75" fill="#1a1a1a"/>
<circle cx="385.9" cy="63.6" r="1.75" fill="#1a1a1a"/>
<circle cx="382.8" cy="66.7" r="1.75" fill="#1a1a1a"/>
<circle cx="377" cy="75.5" r="1.75" fill="#1a1a1a"/>
<circle cx="383" cy="76.2" r="1.75" fill="#1a1a1a"/>
<circle cx="388.5" cy="75.5" r="1.75" fill="#1a1a1a"/>
<line x1="406.3" y1="40.9" x2="406.3" y2="58.4" stroke="#1e1e1e" stroke-width="0.75"/>
<line x1="402.55" y1="40.9" x2="410.05" y2="40.9" stroke="#1e1e1e" stroke-width="0.75"/>
<line x1="402.55" y1="58.4" x2="410.05" y2="58.4" stroke="#1e1e1e" stroke-width="0.75"/>
<circle cx="406.3" cy="37.1" r="1.55" fill="none" stroke="#1a1a1a" stroke-width="0.95"/>
<circle cx="406.3" cy="42.2" r="1.55" fill="none" stroke="#1a1a1a" stroke-width="0.95"/>
<circle cx="406.3" cy="48.6" r="1.55" fill="none" stroke="#1a1a1a" stroke-width="0.95"/>
<circle cx="406.3" cy="51.6" r="1.55" fill="none" stroke="#1a1a1a" stroke-width="0.95"/>
<circle cx="406.3" cy="57" r="1.55" fill="none" stroke="#1a1a1a" stroke-width="0.95"/>
<circle cx="406.3" cy="60.7" r="1.55" fill="none" stroke="#1a1a1a" stroke-width="0.95"/>
<line x1="429.35" y1="47.2" x2="429.35" y2="63" stroke="#1e1e1e" stroke-width="0.75"/>
<line x1="425.6" y1="47.2" x2="433.1" y2="47.2" stroke="#1e1e1e" stroke-width="0.75"/>
<line x1="425.6" y1="63" x2="433.1" y2="63" stroke="#1e1e1e" stroke-width="0.75"/>
<circle cx="426.35" cy="46.5" r="1.55" fill="none" stroke="#1a1a1a" stroke-width="0.95"/>
<circle cx="432.65" cy="45.2" r="1.55" fill="none" stroke="#1a1a1a" stroke-width="0.95"/>
<circle cx="429.35" cy="53" r="1.55" fill="none" stroke="#1a1a1a" stroke-width="0.95"/>
<circle cx="429.35" cy="58.4" r="1.55" fill="none" stroke="#1a1a1a" stroke-width="0.95"/>
<circle cx="429.35" cy="61.3" r="1.55" fill="none" stroke="#1a1a1a" stroke-width="0.95"/>
<text x="406.3" y="36" font-size="7" fill="#333" text-anchor="middle" font-weight="bold">*</text>
<text x="429.4" y="44.1" font-size="7" fill="#333" text-anchor="middle" font-weight="bold">*</text>
<line x1="367.1" y1="135.5" x2="367.1" y2="215.6" stroke="#1e1e1e" stroke-width="1.5"/>
<line x1="363.9" y1="137.7" x2="367.1" y2="137.7" stroke="#1e1e1e" stroke-width="1.35"/>
<text x="360.8" y="140" font-size="6.4" fill="#333" text-anchor="end">50</text>
<line x1="363.9" y1="153.16" x2="367.1" y2="153.16" stroke="#1e1e1e" stroke-width="1.35"/>
<text x="360.8" y="155.46" font-size="6.4" fill="#333" text-anchor="end">40</text>
<line x1="363.9" y1="168.62" x2="367.1" y2="168.62" stroke="#1e1e1e" stroke-width="1.35"/>
<text x="360.8" y="170.92" font-size="6.4" fill="#333" text-anchor="end">30</text>
<line x1="363.9" y1="184.08" x2="367.1" y2="184.08" stroke="#1e1e1e" stroke-width="1.35"/>
<text x="360.8" y="186.38" font-size="6.4" fill="#333" text-anchor="end">20</text>
<line x1="363.9" y1="199.54" x2="367.1" y2="199.54" stroke="#1e1e1e" stroke-width="1.35"/>
<text x="360.8" y="201.84" font-size="6.4" fill="#333" text-anchor="end">10</text>
<line x1="363.9" y1="215" x2="367.1" y2="215" stroke="#1e1e1e" stroke-width="1.35"/>
<text x="360.8" y="217.3" font-size="6.4" fill="#333" text-anchor="end">0</text>
<text transform="translate(347.8,176) rotate(-90)" font-size="7.2" fill="#333" text-anchor="middle" textLength="62.5" lengthAdjust="spacingAndGlyphs">CFCs/500 progenies</text>
<line x1="366.5" y1="215" x2="418.9" y2="215" stroke="#1e1e1e" stroke-width="1.5"/>
<line x1="382.1" y1="215" x2="382.1" y2="217.6" stroke="#1e1e1e" stroke-width="1.35"/>
<text x="382.1" y="227.2" font-size="6.4" fill="#333" text-anchor="middle">Young</text>
<line x1="404.7" y1="215" x2="404.7" y2="217.6" stroke="#1e1e1e" stroke-width="1.35"/>
<text x="404.7" y="227.2" font-size="6.4" fill="#333" text-anchor="middle">Aged</text>
<rect x="374.1" y="184.5" width="15.5" height="30.5" fill="#f7941d"/>
<rect x="397.1" y="153.2" width="15.2" height="61.8" fill="#2ba3de"/>
<line x1="381.85" y1="176" x2="381.85" y2="191.9" stroke="#1e1e1e" stroke-width="0.75"/>
<line x1="378.1" y1="176" x2="385.6" y2="176" stroke="#1e1e1e" stroke-width="0.75"/>
<line x1="378.1" y1="191.9" x2="385.6" y2="191.9" stroke="#1e1e1e" stroke-width="0.75"/>
<circle cx="381.85" cy="167.6" r="1.55" fill="none" stroke="#1a1a1a" stroke-width="0.95"/>
<circle cx="376.05" cy="184" r="1.55" fill="none" stroke="#1a1a1a" stroke-width="0.95"/>
<circle cx="381.85" cy="187.3" r="1.55" fill="none" stroke="#1a1a1a" stroke-width="0.95"/>
<circle cx="387.85" cy="185.5" r="1.55" fill="none" stroke="#1a1a1a" stroke-width="0.95"/>
<circle cx="387.85" cy="188.9" r="1.55" fill="none" stroke="#1a1a1a" stroke-width="0.95"/>
<circle cx="376.05" cy="190.4" r="1.55" fill="none" stroke="#1a1a1a" stroke-width="0.95"/>
<line x1="404.7" y1="148.6" x2="404.7" y2="158.1" stroke="#1e1e1e" stroke-width="0.75"/>
<line x1="400.95" y1="148.6" x2="408.45" y2="148.6" stroke="#1e1e1e" stroke-width="0.75"/>
<line x1="400.95" y1="158.1" x2="408.45" y2="158.1" stroke="#1e1e1e" stroke-width="0.75"/>
<circle cx="398.6" cy="147.8" r="1.55" fill="none" stroke="#1a1a1a" stroke-width="0.95"/>
<circle cx="410.6" cy="149.3" r="1.55" fill="none" stroke="#1a1a1a" stroke-width="0.95"/>
<circle cx="404.7" cy="149" r="1.55" fill="none" stroke="#1a1a1a" stroke-width="0.95"/>
<circle cx="410.1" cy="155.2" r="1.55" fill="none" stroke="#1a1a1a" stroke-width="0.95"/>
<circle cx="404.7" cy="161.3" r="1.55" fill="none" stroke="#1a1a1a" stroke-width="0.95"/>
<circle cx="404.7" cy="157.6" r="1.55" fill="none" stroke="#1a1a1a" stroke-width="0.95"/>
<text x="403.4" y="146.6" font-size="7" fill="#333" text-anchor="middle" font-weight="bold">*</text>
<text x="406" y="146.6" font-size="7" fill="#333" text-anchor="middle" font-weight="bold">*</text>
<text x="6.7" y="267" font-size="11.7" fill="#111" font-weight="bold" stroke="#111" stroke-width="0.55">C</text>
<line x1="40.9" y1="270.5" x2="40.9" y2="351.9" stroke="#1e1e1e" stroke-width="1.5"/>
<line x1="37.7" y1="273.5" x2="40.9" y2="273.5" stroke="#1e1e1e" stroke-width="1.35"/>
<text x="34.9" y="275.8" font-size="6.4" fill="#333" text-anchor="end">60</text>
<line x1="37.7" y1="289.06" x2="40.9" y2="289.06" stroke="#1e1e1e" stroke-width="1.35"/>
<text x="34.9" y="291.36" font-size="6.4" fill="#333" text-anchor="end">50</text>
<line x1="37.7" y1="304.62" x2="40.9" y2="304.62" stroke="#1e1e1e" stroke-width="1.35"/>
<text x="34.9" y="306.92" font-size="6.4" fill="#333" text-anchor="end">40</text>
<line x1="37.7" y1="320.18" x2="40.9" y2="320.18" stroke="#1e1e1e" stroke-width="1.35"/>
<text x="34.9" y="322.48" font-size="6.4" fill="#333" text-anchor="end">30</text>
<line x1="37.7" y1="335.74" x2="40.9" y2="335.74" stroke="#1e1e1e" stroke-width="1.35"/>
<text x="34.9" y="338.04" font-size="6.4" fill="#333" text-anchor="end">20</text>
<line x1="37.7" y1="351.3" x2="40.9" y2="351.3" stroke="#1e1e1e" stroke-width="1.35"/>
<text x="34.9" y="353.6" font-size="6.4" fill="#333" text-anchor="end">10</text>
<text transform="translate(22.6,311.3) rotate(-90)" font-size="8.3" fill="#333" text-anchor="middle" textLength="68.3" lengthAdjust="spacingAndGlyphs">% Donor-derived cells</text>
<line x1="40.3" y1="351.3" x2="152" y2="351.3" stroke="#1e1e1e" stroke-width="1.5"/>
<line x1="40.9" y1="351.3" x2="40.9" y2="353.9" stroke="#1e1e1e" stroke-width="1.35"/>
<text x="40.9" y="363.2" font-size="6.4" fill="#333" text-anchor="middle">4</text>
<line x1="72.6" y1="351.3" x2="72.6" y2="353.9" stroke="#1e1e1e" stroke-width="1.35"/>
<text x="72.6" y="363.2" font-size="6.4" fill="#333" text-anchor="middle">8</text>
<line x1="104.3" y1="351.3" x2="104.3" y2="353.9" stroke="#1e1e1e" stroke-width="1.35"/>
<text x="104.3" y="363.2" font-size="6.4" fill="#333" text-anchor="middle">12</text>
<line x1="136.3" y1="351.3" x2="136.3" y2="353.9" stroke="#1e1e1e" stroke-width="1.35"/>
<text x="136.3" y="363.2" font-size="6.4" fill="#333" text-anchor="middle">16</text>
<text x="96.3" y="375.4" font-size="9" fill="#333" text-anchor="middle" textLength="50.4" lengthAdjust="spacingAndGlyphs">Weeks post BMT</text>
<polyline points="40.9,324.1 72.6,328.5 104.3,326.5 136.3,319.3" fill="none" stroke="#3c9e48" stroke-width="1.1" stroke-dasharray="3.6,2.2"/>
<polyline points="40.9,326 72.6,332.8 104.3,330.4 136.3,325.6" fill="none" stroke="#1f4a6a" stroke-width="1.1" stroke-dasharray="3.6,2.2"/>
<polyline points="40.9,316 72.6,316 104.3,306.8 136.3,301.5" fill="none" stroke="#d0304e" stroke-width="1.2"/>
<line x1="40.9" y1="321" x2="40.9" y2="331" stroke="#3c9e48" stroke-width="0.9"/>
<line x1="39.6" y1="321" x2="42.2" y2="321" stroke="#3c9e48" stroke-width="0.9"/>
<line x1="39.6" y1="331" x2="42.2" y2="331" stroke="#3c9e48" stroke-width="0.9"/>
<line x1="40.9" y1="322.5" x2="40.9" y2="331" stroke="#1f4a6a" stroke-width="0.9"/>
<line x1="39.6" y1="322.5" x2="42.2" y2="322.5" stroke="#1f4a6a" stroke-width="0.9"/>
<line x1="39.6" y1="331" x2="42.2" y2="331" stroke="#1f4a6a" stroke-width="0.9"/>
<line x1="40.9" y1="310.7" x2="40.9" y2="320.8" stroke="#8a1a2e" stroke-width="0.9"/>
<line x1="39.6" y1="310.7" x2="42.2" y2="310.7" stroke="#8a1a2e" stroke-width="0.9"/>
<line x1="39.6" y1="320.8" x2="42.2" y2="320.8" stroke="#8a1a2e" stroke-width="0.9"/>
<circle cx="40.9" cy="324.1" r="1.65" fill="#3c9e48"/>
<circle cx="40.9" cy="326" r="1.65" fill="#1f4a6a"/>
<circle cx="40.9" cy="316" r="1.65" fill="#111"/>
<line x1="72.6" y1="324.5" x2="72.6" y2="332.5" stroke="#3c9e48" stroke-width="0.9"/>
<line x1="71.3" y1="324.5" x2="73.9" y2="324.5" stroke="#3c9e48" stroke-width="0.9"/>
<line x1="71.3" y1="332.5" x2="73.9" y2="332.5" stroke="#3c9e48" stroke-width="0.9"/>
<line x1="72.6" y1="328.5" x2="72.6" y2="337.1" stroke="#1f4a6a" stroke-width="0.9"/>
<line x1="71.3" y1="328.5" x2="73.9" y2="328.5" stroke="#1f4a6a" stroke-width="0.9"/>
<line x1="71.3" y1="337.1" x2="73.9" y2="337.1" stroke="#1f4a6a" stroke-width="0.9"/>
<line x1="72.6" y1="307.8" x2="72.6" y2="323.7" stroke="#8a1a2e" stroke-width="0.9"/>
<line x1="71.3" y1="307.8" x2="73.9" y2="307.8" stroke="#8a1a2e" stroke-width="0.9"/>
<line x1="71.3" y1="323.7" x2="73.9" y2="323.7" stroke="#8a1a2e" stroke-width="0.9"/>
<circle cx="72.6" cy="328.5" r="1.65" fill="#3c9e48"/>
<circle cx="72.6" cy="332.8" r="1.65" fill="#1f4a6a"/>
<circle cx="72.6" cy="316" r="1.65" fill="#111"/>
<line x1="104.3" y1="321.7" x2="104.3" y2="331" stroke="#3c9e48" stroke-width="0.9"/>
<line x1="103" y1="321.7" x2="105.6" y2="321.7" stroke="#3c9e48" stroke-width="0.9"/>
<line x1="103" y1="331" x2="105.6" y2="331" stroke="#3c9e48" stroke-width="0.9"/>
<line x1="104.3" y1="326" x2="104.3" y2="335" stroke="#1f4a6a" stroke-width="0.9"/>
<line x1="103" y1="326" x2="105.6" y2="326" stroke="#1f4a6a" stroke-width="0.9"/>
<line x1="103" y1="335" x2="105.6" y2="335" stroke="#1f4a6a" stroke-width="0.9"/>
<line x1="104.3" y1="300.1" x2="104.3" y2="313.6" stroke="#8a1a2e" stroke-width="0.9"/>
<line x1="103" y1="300.1" x2="105.6" y2="300.1" stroke="#8a1a2e" stroke-width="0.9"/>
<line x1="103" y1="313.6" x2="105.6" y2="313.6" stroke="#8a1a2e" stroke-width="0.9"/>
<circle cx="104.3" cy="326.5" r="1.65" fill="#3c9e48"/>
<circle cx="104.3" cy="330.4" r="1.65" fill="#1f4a6a"/>
<circle cx="104.3" cy="306.8" r="1.65" fill="#111"/>
<line x1="136.3" y1="315.2" x2="136.3" y2="323.5" stroke="#3c9e48" stroke-width="0.9"/>
<line x1="135" y1="315.2" x2="137.6" y2="315.2" stroke="#3c9e48" stroke-width="0.9"/>
<line x1="135" y1="323.5" x2="137.6" y2="323.5" stroke="#3c9e48" stroke-width="0.9"/>
<line x1="136.3" y1="320" x2="136.3" y2="331.3" stroke="#1f4a6a" stroke-width="0.9"/>
<line x1="135" y1="320" x2="137.6" y2="320" stroke="#1f4a6a" stroke-width="0.9"/>
<line x1="135" y1="331.3" x2="137.6" y2="331.3" stroke="#1f4a6a" stroke-width="0.9"/>
<line x1="136.3" y1="293.8" x2="136.3" y2="309.7" stroke="#8a1a2e" stroke-width="0.9"/>
<line x1="135" y1="293.8" x2="137.6" y2="293.8" stroke="#8a1a2e" stroke-width="0.9"/>
<line x1="135" y1="309.7" x2="137.6" y2="309.7" stroke="#8a1a2e" stroke-width="0.9"/>
<circle cx="136.3" cy="319.3" r="1.65" fill="#3c9e48"/>
<circle cx="136.3" cy="325.6" r="1.65" fill="#1f4a6a"/>
<circle cx="136.3" cy="301.5" r="1.65" fill="#111"/>
<text x="71.3" y="344.1" font-size="7" fill="#3a4a5a" text-anchor="middle" font-weight="bold">*</text>
<text x="73.9" y="344.1" font-size="7" fill="#3a4a5a" text-anchor="middle" font-weight="bold">*</text>
<text x="103" y="341.7" font-size="7" fill="#3a4a5a" text-anchor="middle" font-weight="bold">*</text>
<text x="105.6" y="341.7" font-size="7" fill="#3a4a5a" text-anchor="middle" font-weight="bold">*</text>
<text x="135" y="338.3" font-size="7" fill="#3a4a5a" text-anchor="middle" font-weight="bold">*</text>
<text x="137.6" y="338.3" font-size="7" fill="#3a4a5a" text-anchor="middle" font-weight="bold">*</text>
<text x="76.3" y="329.2" font-size="7" fill="#6a9a6a" text-anchor="middle" font-weight="bold">*</text>
<text x="104.3" y="321.7" font-size="7" fill="#6a9a6a" text-anchor="middle" font-weight="bold">*</text>
<text x="135" y="316.2" font-size="7" fill="#6a9a6a" text-anchor="middle" font-weight="bold">*</text>
<text x="137.6" y="316.2" font-size="7" fill="#6a9a6a" text-anchor="middle" font-weight="bold">*</text>
<line x1="45.2" y1="274.8" x2="52.5" y2="274.8" stroke="#222" stroke-width="1"/>
<circle cx="48.7" cy="274.8" r="1.4" fill="#111"/>
<text x="55.9" y="276.6" font-size="6.2" fill="#d23c5a" textLength="8.9" lengthAdjust="spacingAndGlyphs">WT</text>
<line x1="45.2" y1="284.5" x2="52.5" y2="284.5" stroke="#3aaa35" stroke-width="1" stroke-dasharray="2,1"/>
<circle cx="48.7" cy="284.5" r="1.4" fill="#3aaa35"/>
<text x="55.9" y="286.3" font-size="6.2" fill="#5cb85a" font-style="italic">Fancd2<tspan dy="-2.7" font-size="3.9">–/–</tspan></text>
<line x1="45.2" y1="294.2" x2="52.5" y2="294.2" stroke="#1a4f8c" stroke-width="1" stroke-dasharray="2,1"/>
<circle cx="48.7" cy="294.2" r="1.4" fill="#1a4f8c"/>
<text x="55.9" y="295.9" font-size="6.2" fill="#3f68a0" font-style="italic">Atm<tspan dy="-2.7" font-size="3.9">–/–</tspan></text>
<line x1="189.6" y1="270.5" x2="189.6" y2="351.9" stroke="#1e1e1e" stroke-width="1.5"/>
<line x1="185.3" y1="273.5" x2="189.6" y2="273.5" stroke="#1e1e1e" stroke-width="1.35"/>
<text x="182.4" y="275.8" font-size="6.4" fill="#333" text-anchor="end">60</text>
<line x1="185.3" y1="299.43" x2="189.6" y2="299.43" stroke="#1e1e1e" stroke-width="1.35"/>
<text x="182.4" y="301.73" font-size="6.4" fill="#333" text-anchor="end">40</text>
<line x1="185.3" y1="325.37" x2="189.6" y2="325.37" stroke="#1e1e1e" stroke-width="1.35"/>
<text x="182.4" y="327.67" font-size="6.4" fill="#333" text-anchor="end">20</text>
<line x1="185.3" y1="351.3" x2="189.6" y2="351.3" stroke="#1e1e1e" stroke-width="1.35"/>
<text x="182.4" y="353.6" font-size="6.4" fill="#333" text-anchor="end">0</text>
<text transform="translate(169.3,310.6) rotate(-90)" font-size="8.3" fill="#333" text-anchor="middle" textLength="67.2" lengthAdjust="spacingAndGlyphs">% Donor-derived cells</text>
<line x1="189" y1="351.3" x2="299.7" y2="351.3" stroke="#1e1e1e" stroke-width="1.5"/>
<line x1="189.4" y1="351.3" x2="189.4" y2="353.9" stroke="#1e1e1e" stroke-width="1.35"/>
<text x="189.4" y="363.2" font-size="6.4" fill="#333" text-anchor="middle">4</text>
<line x1="221" y1="351.3" x2="221" y2="353.9" stroke="#1e1e1e" stroke-width="1.35"/>
<text x="221" y="363.2" font-size="6.4" fill="#333" text-anchor="middle">8</text>
<line x1="252.5" y1="351.3" x2="252.5" y2="353.9" stroke="#1e1e1e" stroke-width="1.35"/>
<text x="252.5" y="363.2" font-size="6.4" fill="#333" text-anchor="middle">12</text>
<line x1="284.2" y1="351.3" x2="284.2" y2="353.9" stroke="#1e1e1e" stroke-width="1.35"/>
<text x="284.2" y="363.2" font-size="6.4" fill="#333" text-anchor="middle">16</text>
<text x="244.5" y="375.4" font-size="9" fill="#333" text-anchor="middle" textLength="50.4" lengthAdjust="spacingAndGlyphs">Weeks post BMT</text>
<polyline points="189.4,321.9 221,319.3 252.5,312.1 284.2,308.8" fill="none" stroke="#2ba3de" stroke-width="1.1" stroke-dasharray="3.6,2.2"/>
<polyline points="189.4,307.2 221,308.8 252.5,299.7 284.2,291.8" fill="none" stroke="#f7941d" stroke-width="1.2"/>
<line x1="189.4" y1="316" x2="189.4" y2="329" stroke="#2ba3de" stroke-width="0.9"/>
<line x1="188.1" y1="316" x2="190.7" y2="316" stroke="#2ba3de" stroke-width="0.9"/>
<line x1="188.1" y1="329" x2="190.7" y2="329" stroke="#2ba3de" stroke-width="0.9"/>
<line x1="189.4" y1="302" x2="189.4" y2="312.5" stroke="#f7941d" stroke-width="0.9"/>
<line x1="188.1" y1="302" x2="190.7" y2="302" stroke="#f7941d" stroke-width="0.9"/>
<line x1="188.1" y1="312.5" x2="190.7" y2="312.5" stroke="#f7941d" stroke-width="0.9"/>
<circle cx="189.4" cy="321.9" r="1.65" fill="#2ba3de"/>
<circle cx="189.4" cy="307.2" r="1.65" fill="#f7941d"/>
<line x1="221" y1="313" x2="221" y2="326" stroke="#2ba3de" stroke-width="0.9"/>
<line x1="219.7" y1="313" x2="222.3" y2="313" stroke="#2ba3de" stroke-width="0.9"/>
<line x1="219.7" y1="326" x2="222.3" y2="326" stroke="#2ba3de" stroke-width="0.9"/>
<line x1="221" y1="301.2" x2="221" y2="316.4" stroke="#f7941d" stroke-width="0.9"/>
<line x1="219.7" y1="301.2" x2="222.3" y2="301.2" stroke="#f7941d" stroke-width="0.9"/>
<line x1="219.7" y1="316.4" x2="222.3" y2="316.4" stroke="#f7941d" stroke-width="0.9"/>
<circle cx="221" cy="319.3" r="1.65" fill="#2ba3de"/>
<circle cx="221" cy="308.8" r="1.65" fill="#f7941d"/>
<line x1="252.5" y1="306" x2="252.5" y2="318" stroke="#2ba3de" stroke-width="0.9"/>
<line x1="251.2" y1="306" x2="253.8" y2="306" stroke="#2ba3de" stroke-width="0.9"/>
<line x1="251.2" y1="318" x2="253.8" y2="318" stroke="#2ba3de" stroke-width="0.9"/>
<line x1="252.5" y1="289.5" x2="252.5" y2="310" stroke="#f7941d" stroke-width="0.9"/>
<line x1="251.2" y1="289.5" x2="253.8" y2="289.5" stroke="#f7941d" stroke-width="0.9"/>
<line x1="251.2" y1="310" x2="253.8" y2="310" stroke="#f7941d" stroke-width="0.9"/>
<circle cx="252.5" cy="312.1" r="1.65" fill="#2ba3de"/>
<circle cx="252.5" cy="299.7" r="1.65" fill="#f7941d"/>
<line x1="284.2" y1="303.5" x2="284.2" y2="314" stroke="#2ba3de" stroke-width="0.9"/>
<line x1="282.9" y1="303.5" x2="285.5" y2="303.5" stroke="#2ba3de" stroke-width="0.9"/>
<line x1="282.9" y1="314" x2="285.5" y2="314" stroke="#2ba3de" stroke-width="0.9"/>
<line x1="284.2" y1="286.3" x2="284.2" y2="297" stroke="#f7941d" stroke-width="0.9"/>
<line x1="282.9" y1="286.3" x2="285.5" y2="286.3" stroke="#f7941d" stroke-width="0.9"/>
<line x1="282.9" y1="297" x2="285.5" y2="297" stroke="#f7941d" stroke-width="0.9"/>
<circle cx="284.2" cy="308.8" r="1.65" fill="#2ba3de"/>
<circle cx="284.2" cy="291.8" r="1.65" fill="#f7941d"/>
<text x="221" y="332.1" font-size="7" fill="#333" text-anchor="middle" font-weight="bold">*</text>
<text x="252.5" y="324.1" font-size="7" fill="#333" text-anchor="middle" font-weight="bold">*</text>
<text x="282.9" y="321.1" font-size="7" fill="#333" text-anchor="middle" font-weight="bold">*</text>
<text x="285.5" y="321.1" font-size="7" fill="#333" text-anchor="middle" font-weight="bold">*</text>
<line x1="194" y1="274.5" x2="202.3" y2="274.5" stroke="#f7941d" stroke-width="1"/>
<circle cx="198.2" cy="274.5" r="1.4" fill="#f7941d"/>
<text x="205.6" y="276.7" font-size="6.3" fill="#333">Young</text>
<line x1="194" y1="284.3" x2="202.3" y2="284.3" stroke="#2ba3de" stroke-width="1" stroke-dasharray="2,1"/>
<circle cx="198.2" cy="284.3" r="1.4" fill="#2ba3de"/>
<text x="205.6" y="286.5" font-size="6.3" fill="#333">Aged</text>
<text x="322.4" y="266.8" font-size="11.7" fill="#111" font-weight="bold" stroke="#111" stroke-width="0.55">D</text>
<line x1="349.4" y1="270.8" x2="349.4" y2="351.9" stroke="#1e1e1e" stroke-width="1.5"/>
<line x1="346.2" y1="273.5" x2="349.4" y2="273.5" stroke="#1e1e1e" stroke-width="1.35"/>
<text x="343.4" y="275.8" font-size="6.4" fill="#333" text-anchor="end">50</text>
<line x1="346.2" y1="289.06" x2="349.4" y2="289.06" stroke="#1e1e1e" stroke-width="1.35"/>
<text x="343.4" y="291.36" font-size="6.4" fill="#333" text-anchor="end">40</text>
<line x1="346.2" y1="304.62" x2="349.4" y2="304.62" stroke="#1e1e1e" stroke-width="1.35"/>
<text x="343.4" y="306.92" font-size="6.4" fill="#333" text-anchor="end">30</text>
<line x1="346.2" y1="320.18" x2="349.4" y2="320.18" stroke="#1e1e1e" stroke-width="1.35"/>
<text x="343.4" y="322.48" font-size="6.4" fill="#333" text-anchor="end">20</text>
<line x1="346.2" y1="335.74" x2="349.4" y2="335.74" stroke="#1e1e1e" stroke-width="1.35"/>
<text x="343.4" y="338.04" font-size="6.4" fill="#333" text-anchor="end">10</text>
<line x1="346.2" y1="351.3" x2="349.4" y2="351.3" stroke="#1e1e1e" stroke-width="1.35"/>
<text x="343.4" y="353.6" font-size="6.4" fill="#333" text-anchor="end">0</text>
<text transform="translate(329.2,310.2) rotate(-90)" font-size="7.2" fill="#333" text-anchor="middle" textLength="71.6" lengthAdjust="spacingAndGlyphs">Donor-derived cells (%)</text>
<line x1="348.8" y1="351.3" x2="427.5" y2="351.3" stroke="#1e1e1e" stroke-width="1.5"/>
<line x1="364.6" y1="351.3" x2="364.6" y2="353.9" stroke="#1e1e1e" stroke-width="1.35"/>
<line x1="388.3" y1="351.3" x2="388.3" y2="353.9" stroke="#1e1e1e" stroke-width="1.35"/>
<line x1="412" y1="351.3" x2="412" y2="353.9" stroke="#1e1e1e" stroke-width="1.35"/>
<text x="364.6" y="362.9" font-size="6.8" fill="#333" text-anchor="middle" textLength="10" lengthAdjust="spacingAndGlyphs">WT</text>
<text x="388.5" y="362.9" font-size="6.8" fill="#333" text-anchor="middle" textLength="27" lengthAdjust="spacingAndGlyphs" font-style="italic">Fancd2<tspan dy="-2.7" font-size="3.9">–/–</tspan></text>
<text x="412.3" y="362.9" font-size="6.8" fill="#333" text-anchor="middle" textLength="19.4" lengthAdjust="spacingAndGlyphs" font-style="italic">Atm<tspan dy="-2.7" font-size="3.9">–/–</tspan></text>
<rect x="357.3" y="303.7" width="15.2" height="47.6" fill="#c8102e"/>
<rect x="380.1" y="320.6" width="15.9" height="30.7" fill="#3aaa35"/>
<rect x="404.2" y="323" width="15.2" height="28.3" fill="#1a4f8c"/>
<line x1="364.9" y1="294.9" x2="364.9" y2="312.4" stroke="#1e1e1e" stroke-width="0.75"/>
<line x1="361.4" y1="294.9" x2="368.4" y2="294.9" stroke="#1e1e1e" stroke-width="0.75"/>
<line x1="361.4" y1="312.4" x2="368.4" y2="312.4" stroke="#1e1e1e" stroke-width="0.75"/>
<circle cx="364.6" cy="288.7" r="1.75" fill="#1a1a1a"/>
<circle cx="361.3" cy="300.1" r="1.75" fill="#1a1a1a"/>
<circle cx="367.9" cy="302.6" r="1.75" fill="#1a1a1a"/>
<circle cx="361.3" cy="307.8" r="1.75" fill="#1a1a1a"/>
<circle cx="367.9" cy="307.8" r="1.75" fill="#1a1a1a"/>
<circle cx="364.6" cy="313.2" r="1.75" fill="#1a1a1a"/>
<line x1="388.05" y1="316.5" x2="388.05" y2="325" stroke="#1e1e1e" stroke-width="0.75"/>
<line x1="384.55" y1="316.5" x2="391.55" y2="316.5" stroke="#1e1e1e" stroke-width="0.75"/>
<line x1="384.55" y1="325" x2="391.55" y2="325" stroke="#1e1e1e" stroke-width="0.75"/>
<circle cx="385" cy="315.3" r="1.55" fill="none" stroke="#1a1a1a" stroke-width="0.95"/>
<circle cx="391.6" cy="315.3" r="1.55" fill="none" stroke="#1a1a1a" stroke-width="0.95"/>
<circle cx="381.8" cy="320.6" r="1.55" fill="none" stroke="#1a1a1a" stroke-width="0.95"/>
<circle cx="394" cy="322.2" r="1.55" fill="none" stroke="#1a1a1a" stroke-width="0.95"/>
<circle cx="388.3" cy="319.8" r="1.55" fill="none" stroke="#1a1a1a" stroke-width="0.95"/>
<circle cx="388.3" cy="323.5" r="1.55" fill="none" stroke="#1a1a1a" stroke-width="0.95"/>
<circle cx="388.3" cy="326.8" r="1.55" fill="none" stroke="#1a1a1a" stroke-width="0.95"/>
<line x1="411.8" y1="318.1" x2="411.8" y2="328" stroke="#1e1e1e" stroke-width="0.75"/>
<line x1="408.3" y1="318.1" x2="415.3" y2="318.1" stroke="#1e1e1e" stroke-width="0.75"/>
<line x1="408.3" y1="328" x2="415.3" y2="328" stroke="#1e1e1e" stroke-width="0.75"/>
<circle cx="412" cy="314.9" r="1.55" fill="none" stroke="#1a1a1a" stroke-width="0.95"/>
<circle cx="412" cy="320.2" r="1.55" fill="none" stroke="#1a1a1a" stroke-width="0.95"/>
<circle cx="405.5" cy="328.7" r="1.55" fill="none" stroke="#1a1a1a" stroke-width="0.95"/>
<circle cx="418.2" cy="323.5" r="1.55" fill="none" stroke="#1a1a1a" stroke-width="0.95"/>
<circle cx="418.2" cy="327.1" r="1.55" fill="none" stroke="#1a1a1a" stroke-width="0.95"/>
<circle cx="412" cy="325.8" r="1.55" fill="none" stroke="#1a1a1a" stroke-width="0.95"/>
<text x="387" y="314" font-size="7" fill="#333" text-anchor="middle" font-weight="bold">*</text>
<text x="389.6" y="314" font-size="7" fill="#333" text-anchor="middle" font-weight="bold">*</text>
<text x="410.7" y="313.1" font-size="7" fill="#333" text-anchor="middle" font-weight="bold">*</text>
<text x="413.3" y="313.1" font-size="7" fill="#333" text-anchor="middle" font-weight="bold">*</text>
<line x1="460.5" y1="270.8" x2="460.5" y2="351.9" stroke="#1e1e1e" stroke-width="1.5"/>
<line x1="457.3" y1="273.5" x2="460.5" y2="273.5" stroke="#1e1e1e" stroke-width="1.35"/>
<text x="454.5" y="275.8" font-size="6.4" fill="#333" text-anchor="end">50</text>
<line x1="457.3" y1="289.06" x2="460.5" y2="289.06" stroke="#1e1e1e" stroke-width="1.35"/>
<text x="454.5" y="291.36" font-size="6.4" fill="#333" text-anchor="end">40</text>
<line x1="457.3" y1="304.62" x2="460.5" y2="304.62" stroke="#1e1e1e" stroke-width="1.35"/>
<text x="454.5" y="306.92" font-size="6.4" fill="#333" text-anchor="end">30</text>
<line x1="457.3" y1="320.18" x2="460.5" y2="320.18" stroke="#1e1e1e" stroke-width="1.35"/>
<text x="454.5" y="322.48" font-size="6.4" fill="#333" text-anchor="end">20</text>
<line x1="457.3" y1="335.74" x2="460.5" y2="335.74" stroke="#1e1e1e" stroke-width="1.35"/>
<text x="454.5" y="338.04" font-size="6.4" fill="#333" text-anchor="end">10</text>
<line x1="457.3" y1="351.3" x2="460.5" y2="351.3" stroke="#1e1e1e" stroke-width="1.35"/>
<text x="454.5" y="353.6" font-size="6.4" fill="#333" text-anchor="end">0</text>
<text transform="translate(439.8,310.6) rotate(-90)" font-size="7.2" fill="#333" text-anchor="middle" textLength="72.5" lengthAdjust="spacingAndGlyphs">Donor-derived cells (%)</text>
<line x1="459.9" y1="351.3" x2="512.7" y2="351.3" stroke="#1e1e1e" stroke-width="1.5"/>
<line x1="475.6" y1="351.3" x2="475.6" y2="353.9" stroke="#1e1e1e" stroke-width="1.35"/>
<text x="475.6" y="363.6" font-size="6.4" fill="#333" text-anchor="middle">Young</text>
<line x1="498" y1="351.3" x2="498" y2="353.9" stroke="#1e1e1e" stroke-width="1.35"/>
<text x="498" y="363.6" font-size="6.4" fill="#333" text-anchor="middle">Aged</text>
<rect x="468.3" y="298.3" width="14.5" height="53" fill="#f7941d"/>
<rect x="490.6" y="314.9" width="14.4" height="36.4" fill="#2ba3de"/>
<line x1="475.55" y1="289" x2="475.55" y2="307.6" stroke="#1e1e1e" stroke-width="0.75"/>
<line x1="472.05" y1="289" x2="479.05" y2="289" stroke="#1e1e1e" stroke-width="0.75"/>
<line x1="472.05" y1="307.6" x2="479.05" y2="307.6" stroke="#1e1e1e" stroke-width="0.75"/>
<circle cx="475.6" cy="285.1" r="1.55" fill="none" stroke="#1a1a1a" stroke-width="0.95"/>
<circle cx="475.6" cy="289" r="1.55" fill="none" stroke="#1a1a1a" stroke-width="0.95"/>
<circle cx="475.6" cy="296" r="1.55" fill="none" stroke="#1a1a1a" stroke-width="0.95"/>
<circle cx="473" cy="306" r="1.55" fill="none" stroke="#1a1a1a" stroke-width="0.95"/>
<circle cx="478.5" cy="306" r="1.55" fill="none" stroke="#1a1a1a" stroke-width="0.95"/>
<circle cx="472.5" cy="309.1" r="1.55" fill="none" stroke="#1a1a1a" stroke-width="0.95"/>
<circle cx="479" cy="308.5" r="1.55" fill="none" stroke="#1a1a1a" stroke-width="0.95"/>
<line x1="497.8" y1="306" x2="497.8" y2="322" stroke="#1e1e1e" stroke-width="0.75"/>
<line x1="494.3" y1="306" x2="501.3" y2="306" stroke="#1e1e1e" stroke-width="0.75"/>
<line x1="494.3" y1="322" x2="501.3" y2="322" stroke="#1e1e1e" stroke-width="0.75"/>
<circle cx="498" cy="303" r="1.55" fill="none" stroke="#1a1a1a" stroke-width="0.95"/>
<circle cx="492.5" cy="304" r="1.55" fill="none" stroke="#1a1a1a" stroke-width="0.95"/>
<circle cx="503" cy="305.6" r="1.55" fill="none" stroke="#1a1a1a" stroke-width="0.95"/>
<circle cx="498" cy="314.6" r="1.55" fill="none" stroke="#1a1a1a" stroke-width="0.95"/>
<circle cx="493" cy="319.2" r="1.55" fill="none" stroke="#1a1a1a" stroke-width="0.95"/>
<circle cx="498" cy="322" r="1.55" fill="none" stroke="#1a1a1a" stroke-width="0.95"/>
<circle cx="502" cy="322" r="1.55" fill="none" stroke="#1a1a1a" stroke-width="0.95"/>
<circle cx="493" cy="323" r="1.55" fill="none" stroke="#1a1a1a" stroke-width="0.95"/>
<text x="498" y="303" font-size="7" fill="#333" text-anchor="middle" font-weight="bold">*</text>
<text x="7.1" y="403.5" font-size="11.7" fill="#111" font-weight="bold" stroke="#111" stroke-width="0.55">E</text>
<line x1="39.2" y1="407" x2="39.2" y2="480.6" stroke="#1e1e1e" stroke-width="1.5"/>
<line x1="36" y1="409.6" x2="39.2" y2="409.6" stroke="#1e1e1e" stroke-width="1.35"/>
<text x="33.2" y="411.9" font-size="6.4" fill="#333" text-anchor="end">20</text>
<line x1="36" y1="427.2" x2="39.2" y2="427.2" stroke="#1e1e1e" stroke-width="1.35"/>
<text x="33.2" y="429.5" font-size="6.4" fill="#333" text-anchor="end">15</text>
<line x1="36" y1="444.8" x2="39.2" y2="444.8" stroke="#1e1e1e" stroke-width="1.35"/>
<text x="33.2" y="447.1" font-size="6.4" fill="#333" text-anchor="end">10</text>
<line x1="36" y1="462.4" x2="39.2" y2="462.4" stroke="#1e1e1e" stroke-width="1.35"/>
<text x="33.2" y="464.7" font-size="6.4" fill="#333" text-anchor="end">5</text>
<line x1="36" y1="480" x2="39.2" y2="480" stroke="#1e1e1e" stroke-width="1.35"/>
<text x="33.2" y="482.3" font-size="6.4" fill="#333" text-anchor="end">0</text>
<line x1="38.6" y1="480" x2="108.5" y2="480" stroke="#1e1e1e" stroke-width="1.5"/>
<line x1="51.2" y1="480" x2="51.2" y2="482.6" stroke="#1e1e1e" stroke-width="1.35"/>
<line x1="74.5" y1="480" x2="74.5" y2="482.6" stroke="#1e1e1e" stroke-width="1.35"/>
<line x1="97.5" y1="480" x2="97.5" y2="482.6" stroke="#1e1e1e" stroke-width="1.35"/>
<text x="51.2" y="491.3" font-size="6.8" fill="#333" text-anchor="middle" textLength="10" lengthAdjust="spacingAndGlyphs">WT</text>
<text x="73.9" y="491.3" font-size="6.8" fill="#333" text-anchor="middle" textLength="27" lengthAdjust="spacingAndGlyphs" font-style="italic">Fancd2<tspan dy="-2.7" font-size="3.9">–/–</tspan></text>
<text x="97.4" y="491.3" font-size="6.8" fill="#333" text-anchor="middle" textLength="19.4" lengthAdjust="spacingAndGlyphs" font-style="italic">Atm<tspan dy="-2.7" font-size="3.9">–/–</tspan></text>
<text transform="translate(21.5,443.2) rotate(-90)" font-size="7.9" fill="#333" text-anchor="middle" textLength="61" lengthAdjust="spacingAndGlyphs">BMCs/femur (X10<tspan dy="-2.4" font-size="4.3">6</tspan><tspan dy="2.4">)</tspan></text>
<rect x="43.8" y="438.2" width="5.9" height="41.8" fill="#c8102e"/>
<rect x="52.8" y="439.6" width="5.8" height="40.4" fill="#3aaa35"/>
<rect x="66.9" y="446.3" width="6.1" height="33.7" fill="#c8102e"/>
<rect x="76.1" y="436" width="5.9" height="44" fill="#3aaa35"/>
<rect x="90" y="445" width="5.9" height="35" fill="#c8102e"/>
<rect x="99.2" y="439.6" width="5.7" height="40.4" fill="#3aaa35"/>
<line x1="46.75" y1="428.2" x2="46.75" y2="448" stroke="#1e1e1e" stroke-width="0.75"/>
<line x1="45.45" y1="428.2" x2="48.05" y2="428.2" stroke="#1e1e1e" stroke-width="0.75"/>
<line x1="45.45" y1="448" x2="48.05" y2="448" stroke="#1e1e1e" stroke-width="0.75"/>
<circle cx="46.75" cy="419.4" r="1.5" fill="#1a1a1a"/>
<circle cx="46.75" cy="434.9" r="1.5" fill="#1a1a1a"/>
<circle cx="46.75" cy="438.2" r="1.5" fill="#1a1a1a"/>
<circle cx="45.55" cy="444.3" r="1.5" fill="#1a1a1a"/>
<circle cx="48.05" cy="448.3" r="1.5" fill="#1a1a1a"/>
<circle cx="46.75" cy="448" r="1.5" fill="#1a1a1a"/>
<line x1="55.7" y1="431.5" x2="55.7" y2="447.7" stroke="#1e1e1e" stroke-width="0.75"/>
<line x1="54.4" y1="431.5" x2="57" y2="431.5" stroke="#1e1e1e" stroke-width="0.75"/>
<line x1="54.4" y1="447.7" x2="57" y2="447.7" stroke="#1e1e1e" stroke-width="0.75"/>
<circle cx="55.7" cy="425.7" r="1.3" fill="none" stroke="#1a1a1a" stroke-width="0.95"/>
<circle cx="55.7" cy="435.6" r="1.3" fill="none" stroke="#1a1a1a" stroke-width="0.95"/>
<circle cx="54" cy="436.2" r="1.3" fill="none" stroke="#1a1a1a" stroke-width="0.95"/>
<circle cx="56" cy="444.3" r="1.3" fill="none" stroke="#1a1a1a" stroke-width="0.95"/>
<circle cx="55" cy="447.3" r="1.3" fill="none" stroke="#1a1a1a" stroke-width="0.95"/>
<circle cx="57" cy="447.3" r="1.3" fill="none" stroke="#1a1a1a" stroke-width="0.95"/>
<line x1="69.95" y1="443.5" x2="69.95" y2="449" stroke="#1e1e1e" stroke-width="0.75"/>
<line x1="68.65" y1="443.5" x2="71.25" y2="443.5" stroke="#1e1e1e" stroke-width="0.75"/>
<line x1="68.65" y1="449" x2="71.25" y2="449" stroke="#1e1e1e" stroke-width="0.75"/>
<circle cx="69.95" cy="442.7" r="1.5" fill="#1a1a1a"/>
<circle cx="68.45" cy="447.3" r="1.5" fill="#1a1a1a"/>
<circle cx="71.45" cy="447.3" r="1.5" fill="#1a1a1a"/>
<line x1="79.05" y1="432" x2="79.05" y2="440" stroke="#1e1e1e" stroke-width="0.75"/>
<line x1="77.75" y1="432" x2="80.35" y2="432" stroke="#1e1e1e" stroke-width="0.75"/>
<line x1="77.75" y1="440" x2="80.35" y2="440" stroke="#1e1e1e" stroke-width="0.75"/>
<circle cx="79.05" cy="430.2" r="1.3" fill="none" stroke="#1a1a1a" stroke-width="0.95"/>
<circle cx="77.55" cy="435.6" r="1.3" fill="none" stroke="#1a1a1a" stroke-width="0.95"/>
<circle cx="80.55" cy="436.2" r="1.3" fill="none" stroke="#1a1a1a" stroke-width="0.95"/>
<circle cx="79.05" cy="440.3" r="1.3" fill="none" stroke="#1a1a1a" stroke-width="0.95"/>
<circle cx="79.05" cy="443" r="1.3" fill="none" stroke="#1a1a1a" stroke-width="0.95"/>
<circle cx="79.05" cy="446" r="1.3" fill="none" stroke="#1a1a1a" stroke-width="0.95"/>
<line x1="92.95" y1="442.5" x2="92.95" y2="447.5" stroke="#1e1e1e" stroke-width="0.75"/>
<line x1="91.65" y1="442.5" x2="94.25" y2="442.5" stroke="#1e1e1e" stroke-width="0.75"/>
<line x1="91.65" y1="447.5" x2="94.25" y2="447.5" stroke="#1e1e1e" stroke-width="0.75"/>
<circle cx="92.95" cy="442.3" r="1.5" fill="#1a1a1a"/>
<circle cx="92.95" cy="445" r="1.5" fill="#1a1a1a"/>
<circle cx="91.45" cy="447.7" r="1.5" fill="#1a1a1a"/>
<circle cx="94.15" cy="449" r="1.5" fill="#1a1a1a"/>
<line x1="102.05" y1="434.5" x2="102.05" y2="444.5" stroke="#1e1e1e" stroke-width="0.75"/>
<line x1="100.75" y1="434.5" x2="103.35" y2="434.5" stroke="#1e1e1e" stroke-width="0.75"/>
<line x1="100.75" y1="444.5" x2="103.35" y2="444.5" stroke="#1e1e1e" stroke-width="0.75"/>
<circle cx="100.55" cy="433.5" r="1.3" fill="none" stroke="#1a1a1a" stroke-width="0.95"/>
<circle cx="103.55" cy="434.9" r="1.3" fill="none" stroke="#1a1a1a" stroke-width="0.95"/>
<circle cx="102.05" cy="436.9" r="1.3" fill="none" stroke="#1a1a1a" stroke-width="0.95"/>
<circle cx="102.05" cy="440.3" r="1.3" fill="none" stroke="#1a1a1a" stroke-width="0.95"/>
<circle cx="100.55" cy="442.3" r="1.3" fill="none" stroke="#1a1a1a" stroke-width="0.95"/>
<circle cx="103.05" cy="444" r="1.3" fill="none" stroke="#1a1a1a" stroke-width="0.95"/>
<circle cx="101.55" cy="445.4" r="1.3" fill="none" stroke="#1a1a1a" stroke-width="0.95"/>
<text x="79" y="429.1" font-size="7" fill="#333" text-anchor="middle" font-weight="bold">*</text>
<text x="102" y="433.1" font-size="7" fill="#333" text-anchor="middle" font-weight="bold">*</text>
<circle cx="52.6" cy="409.6" r="1.5" fill="#1a1a1a"/>
<text x="56.5" y="411.9" font-size="6.3" fill="#d23c5a" textLength="10.5" lengthAdjust="spacingAndGlyphs">IgG</text>
<circle cx="71" cy="409.6" r="1.4" fill="none" stroke="#1a1a1a" stroke-width="1.15"/>
<text x="74.3" y="411.9" font-size="6.3" fill="#5cb85a" textLength="23.7" lengthAdjust="spacingAndGlyphs">α-AREG</text>
<line x1="136.5" y1="407" x2="136.5" y2="480.6" stroke="#1e1e1e" stroke-width="1.5"/>
<line x1="133.3" y1="409.5" x2="136.5" y2="409.5" stroke="#1e1e1e" stroke-width="1.35"/>
<text x="130.5" y="411.8" font-size="6.4" fill="#333" text-anchor="end">8</text>
<line x1="133.3" y1="427.12" x2="136.5" y2="427.12" stroke="#1e1e1e" stroke-width="1.35"/>
<text x="130.5" y="429.43" font-size="6.4" fill="#333" text-anchor="end">6</text>
<line x1="133.3" y1="444.75" x2="136.5" y2="444.75" stroke="#1e1e1e" stroke-width="1.35"/>
<text x="130.5" y="447.05" font-size="6.4" fill="#333" text-anchor="end">4</text>
<line x1="133.3" y1="462.38" x2="136.5" y2="462.38" stroke="#1e1e1e" stroke-width="1.35"/>
<text x="130.5" y="464.68" font-size="6.4" fill="#333" text-anchor="end">2</text>
<line x1="133.3" y1="480" x2="136.5" y2="480" stroke="#1e1e1e" stroke-width="1.35"/>
<text x="130.5" y="482.3" font-size="6.4" fill="#333" text-anchor="end">0</text>
<line x1="135.9" y1="480" x2="202.7" y2="480" stroke="#1e1e1e" stroke-width="1.5"/>
<line x1="147.2" y1="480" x2="147.2" y2="482.6" stroke="#1e1e1e" stroke-width="1.35"/>
<line x1="170.5" y1="480" x2="170.5" y2="482.6" stroke="#1e1e1e" stroke-width="1.35"/>
<line x1="193.5" y1="480" x2="193.5" y2="482.6" stroke="#1e1e1e" stroke-width="1.35"/>
<text x="147.2" y="491.3" font-size="6.8" fill="#333" text-anchor="middle" textLength="10" lengthAdjust="spacingAndGlyphs">WT</text>
<text x="169.9" y="491.3" font-size="6.8" fill="#333" text-anchor="middle" textLength="27" lengthAdjust="spacingAndGlyphs" font-style="italic">Fancd2<tspan dy="-2.7" font-size="3.9">–/–</tspan></text>
<text x="193.5" y="491.3" font-size="6.8" fill="#333" text-anchor="middle" textLength="19.4" lengthAdjust="spacingAndGlyphs" font-style="italic">Atm<tspan dy="-2.7" font-size="3.9">–/–</tspan></text>
<text transform="translate(121,443.3) rotate(-90)" font-size="8.4" fill="#333" text-anchor="middle" textLength="49.5" lengthAdjust="spacingAndGlyphs">% of HSC in LSK</text>
<rect x="139.8" y="426.1" width="5.9" height="53.9" fill="#c8102e"/>
<rect x="148.8" y="427.5" width="5.8" height="52.5" fill="#3aaa35"/>
<rect x="162.9" y="447.3" width="6.1" height="32.7" fill="#c8102e"/>
<rect x="172.1" y="436.9" width="5.9" height="43.1" fill="#3aaa35"/>
<rect x="186" y="450.4" width="5.9" height="29.6" fill="#c8102e"/>
<rect x="195.2" y="438.9" width="5.7" height="41.1" fill="#3aaa35"/>
<line x1="142.75" y1="420" x2="142.75" y2="432" stroke="#1e1e1e" stroke-width="0.75"/>
<line x1="141.45" y1="420" x2="144.05" y2="420" stroke="#1e1e1e" stroke-width="0.75"/>
<line x1="141.45" y1="432" x2="144.05" y2="432" stroke="#1e1e1e" stroke-width="0.75"/>
<circle cx="144.05" cy="415.4" r="1.5" fill="#1a1a1a"/>
<circle cx="141.55" cy="417.7" r="1.5" fill="#1a1a1a"/>
<circle cx="143.55" cy="419.4" r="1.5" fill="#1a1a1a"/>
<circle cx="142.75" cy="430.8" r="1.5" fill="#1a1a1a"/>
<circle cx="142.75" cy="436.9" r="1.5" fill="#1a1a1a"/>
<circle cx="142.75" cy="440.3" r="1.5" fill="#1a1a1a"/>
<line x1="151.7" y1="420" x2="151.7" y2="434" stroke="#1e1e1e" stroke-width="0.75"/>
<line x1="150.4" y1="420" x2="153" y2="420" stroke="#1e1e1e" stroke-width="0.75"/>
<line x1="150.4" y1="434" x2="153" y2="434" stroke="#1e1e1e" stroke-width="0.75"/>
<circle cx="150" cy="418.7" r="1.3" fill="none" stroke="#1a1a1a" stroke-width="0.95"/>
<circle cx="153" cy="418.7" r="1.3" fill="none" stroke="#1a1a1a" stroke-width="0.95"/>
<circle cx="151.7" cy="420.7" r="1.3" fill="none" stroke="#1a1a1a" stroke-width="0.95"/>
<circle cx="151.7" cy="422.8" r="1.3" fill="none" stroke="#1a1a1a" stroke-width="0.95"/>
<circle cx="151.7" cy="429.5" r="1.3" fill="none" stroke="#1a1a1a" stroke-width="0.95"/>
<circle cx="150.5" cy="434.2" r="1.3" fill="none" stroke="#1a1a1a" stroke-width="0.95"/>
<circle cx="153" cy="436.2" r="1.3" fill="none" stroke="#1a1a1a" stroke-width="0.95"/>
<line x1="165.95" y1="444.5" x2="165.95" y2="450" stroke="#1e1e1e" stroke-width="0.75"/>
<line x1="164.65" y1="444.5" x2="167.25" y2="444.5" stroke="#1e1e1e" stroke-width="0.75"/>
<line x1="164.65" y1="450" x2="167.25" y2="450" stroke="#1e1e1e" stroke-width="0.75"/>
<circle cx="164.45" cy="444.3" r="1.5" fill="#1a1a1a"/>
<circle cx="167.45" cy="444.3" r="1.5" fill="#1a1a1a"/>
<circle cx="165.95" cy="447" r="1.5" fill="#1a1a1a"/>
<line x1="175.05" y1="431" x2="175.05" y2="442" stroke="#1e1e1e" stroke-width="0.75"/>
<line x1="173.75" y1="431" x2="176.35" y2="431" stroke="#1e1e1e" stroke-width="0.75"/>
<line x1="173.75" y1="442" x2="176.35" y2="442" stroke="#1e1e1e" stroke-width="0.75"/>
<circle cx="175.05" cy="430.8" r="1.3" fill="none" stroke="#1a1a1a" stroke-width="0.95"/>
<circle cx="175.05" cy="432.9" r="1.3" fill="none" stroke="#1a1a1a" stroke-width="0.95"/>
<circle cx="173.55" cy="434.9" r="1.3" fill="none" stroke="#1a1a1a" stroke-width="0.95"/>
<circle cx="176.55" cy="435.6" r="1.3" fill="none" stroke="#1a1a1a" stroke-width="0.95"/>
<circle cx="175.05" cy="441" r="1.3" fill="none" stroke="#1a1a1a" stroke-width="0.95"/>
<circle cx="175.05" cy="447.7" r="1.3" fill="none" stroke="#1a1a1a" stroke-width="0.95"/>
<line x1="188.95" y1="445.5" x2="188.95" y2="455" stroke="#1e1e1e" stroke-width="0.75"/>
<line x1="187.65" y1="445.5" x2="190.25" y2="445.5" stroke="#1e1e1e" stroke-width="0.75"/>
<line x1="187.65" y1="455" x2="190.25" y2="455" stroke="#1e1e1e" stroke-width="0.75"/>
<circle cx="190.95" cy="444.3" r="1.5" fill="#1a1a1a"/>
<circle cx="187.95" cy="446.3" r="1.5" fill="#1a1a1a"/>
<circle cx="188.95" cy="450.4" r="1.5" fill="#1a1a1a"/>
<circle cx="188.95" cy="454.4" r="1.5" fill="#1a1a1a"/>
<line x1="198.05" y1="433" x2="198.05" y2="445" stroke="#1e1e1e" stroke-width="0.75"/>
<line x1="196.75" y1="433" x2="199.35" y2="433" stroke="#1e1e1e" stroke-width="0.75"/>
<line x1="196.75" y1="445" x2="199.35" y2="445" stroke="#1e1e1e" stroke-width="0.75"/>
<circle cx="196.55" cy="432.9" r="1.3" fill="none" stroke="#1a1a1a" stroke-width="0.95"/>
<circle cx="199.55" cy="433.5" r="1.3" fill="none" stroke="#1a1a1a" stroke-width="0.95"/>
<circle cx="198.05" cy="435.6" r="1.3" fill="none" stroke="#1a1a1a" stroke-width="0.95"/>
<circle cx="198.05" cy="440.3" r="1.3" fill="none" stroke="#1a1a1a" stroke-width="0.95"/>
<circle cx="198.05" cy="445.6" r="1.3" fill="none" stroke="#1a1a1a" stroke-width="0.95"/>
<circle cx="198.05" cy="451" r="1.3" fill="none" stroke="#1a1a1a" stroke-width="0.95"/>
<text x="175" y="429.7" font-size="7" fill="#333" text-anchor="middle" font-weight="bold">*</text>
<text x="198" y="432.8" font-size="7" fill="#333" text-anchor="middle" font-weight="bold">*</text>
<line x1="240.4" y1="407" x2="240.4" y2="480.6" stroke="#1e1e1e" stroke-width="1.5"/>
<line x1="237.2" y1="410" x2="240.4" y2="410" stroke="#1e1e1e" stroke-width="1.35"/>
<text x="234.4" y="412.3" font-size="6.4" fill="#333" text-anchor="end">100</text>
<line x1="237.2" y1="424" x2="240.4" y2="424" stroke="#1e1e1e" stroke-width="1.35"/>
<text x="234.4" y="426.3" font-size="6.4" fill="#333" text-anchor="end">80</text>
<line x1="237.2" y1="438" x2="240.4" y2="438" stroke="#1e1e1e" stroke-width="1.35"/>
<text x="234.4" y="440.3" font-size="6.4" fill="#333" text-anchor="end">60</text>
<line x1="237.2" y1="452" x2="240.4" y2="452" stroke="#1e1e1e" stroke-width="1.35"/>
<text x="234.4" y="454.3" font-size="6.4" fill="#333" text-anchor="end">40</text>
<line x1="237.2" y1="466" x2="240.4" y2="466" stroke="#1e1e1e" stroke-width="1.35"/>
<text x="234.4" y="468.3" font-size="6.4" fill="#333" text-anchor="end">20</text>
<line x1="237.2" y1="480" x2="240.4" y2="480" stroke="#1e1e1e" stroke-width="1.35"/>
<text x="234.4" y="482.3" font-size="6.4" fill="#333" text-anchor="end">0</text>
<line x1="239.8" y1="480" x2="306.6" y2="480" stroke="#1e1e1e" stroke-width="1.5"/>
<line x1="250.6" y1="480" x2="250.6" y2="482.6" stroke="#1e1e1e" stroke-width="1.35"/>
<line x1="273.8" y1="480" x2="273.8" y2="482.6" stroke="#1e1e1e" stroke-width="1.35"/>
<line x1="296.7" y1="480" x2="296.7" y2="482.6" stroke="#1e1e1e" stroke-width="1.35"/>
<text x="250.6" y="491.3" font-size="6.8" fill="#333" text-anchor="middle" textLength="10" lengthAdjust="spacingAndGlyphs">WT</text>
<text x="273.1" y="491.3" font-size="6.8" fill="#333" text-anchor="middle" textLength="27" lengthAdjust="spacingAndGlyphs" font-style="italic">Fancd2<tspan dy="-2.7" font-size="3.9">–/–</tspan></text>
<text x="296.2" y="491.3" font-size="6.8" fill="#333" text-anchor="middle" textLength="19.4" lengthAdjust="spacingAndGlyphs" font-style="italic">Atm<tspan dy="-2.7" font-size="3.9">–/–</tspan></text>
<text transform="translate(217.4,443.2) rotate(-90)" font-size="8.4" fill="#333" text-anchor="middle" textLength="60.6" lengthAdjust="spacingAndGlyphs">% of mbHSC in HSC</text>
<rect x="243" y="444.3" width="6.2" height="35.7" fill="#c8102e"/>
<rect x="251.8" y="444.3" width="6.4" height="35.7" fill="#3aaa35"/>
<rect x="266.2" y="426.8" width="6.1" height="53.2" fill="#c8102e"/>
<rect x="275.3" y="443.6" width="6.2" height="36.4" fill="#3aaa35"/>
<rect x="289.1" y="426.8" width="6.1" height="53.2" fill="#c8102e"/>
<rect x="298.1" y="446.3" width="6.2" height="33.7" fill="#3aaa35"/>
<line x1="246.1" y1="440" x2="246.1" y2="448" stroke="#1e1e1e" stroke-width="0.75"/>
<line x1="244.8" y1="440" x2="247.4" y2="440" stroke="#1e1e1e" stroke-width="0.75"/>
<line x1="244.8" y1="448" x2="247.4" y2="448" stroke="#1e1e1e" stroke-width="0.75"/>
<circle cx="246.1" cy="437.6" r="1.5" fill="#1a1a1a"/>
<circle cx="246.1" cy="440.9" r="1.5" fill="#1a1a1a"/>
<circle cx="246.1" cy="444.3" r="1.5" fill="#1a1a1a"/>
<circle cx="244.6" cy="446.3" r="1.5" fill="#1a1a1a"/>
<circle cx="247.6" cy="447.3" r="1.5" fill="#1a1a1a"/>
<line x1="255" y1="441" x2="255" y2="448" stroke="#1e1e1e" stroke-width="0.75"/>
<line x1="253.7" y1="441" x2="256.3" y2="441" stroke="#1e1e1e" stroke-width="0.75"/>
<line x1="253.7" y1="448" x2="256.3" y2="448" stroke="#1e1e1e" stroke-width="0.75"/>
<circle cx="255" cy="440.9" r="1.3" fill="none" stroke="#1a1a1a" stroke-width="0.95"/>
<circle cx="253" cy="445" r="1.3" fill="none" stroke="#1a1a1a" stroke-width="0.95"/>
<circle cx="257" cy="445" r="1.3" fill="none" stroke="#1a1a1a" stroke-width="0.95"/>
<circle cx="255" cy="447.7" r="1.3" fill="none" stroke="#1a1a1a" stroke-width="0.95"/>
<circle cx="253.5" cy="450.4" r="1.3" fill="none" stroke="#1a1a1a" stroke-width="0.95"/>
<circle cx="256.5" cy="452.4" r="1.3" fill="none" stroke="#1a1a1a" stroke-width="0.95"/>
<line x1="269.25" y1="421" x2="269.25" y2="433" stroke="#1e1e1e" stroke-width="0.75"/>
<line x1="267.95" y1="421" x2="270.55" y2="421" stroke="#1e1e1e" stroke-width="0.75"/>
<line x1="267.95" y1="433" x2="270.55" y2="433" stroke="#1e1e1e" stroke-width="0.75"/>
<circle cx="267.55" cy="420.1" r="1.5" fill="#1a1a1a"/>
<circle cx="271.05" cy="420.1" r="1.5" fill="#1a1a1a"/>
<circle cx="269.25" cy="425.5" r="1.5" fill="#1a1a1a"/>
<circle cx="269.25" cy="429.5" r="1.5" fill="#1a1a1a"/>
<circle cx="268.05" cy="432.9" r="1.5" fill="#1a1a1a"/>
<line x1="278.4" y1="440.5" x2="278.4" y2="447" stroke="#1e1e1e" stroke-width="0.75"/>
<line x1="277.1" y1="440.5" x2="279.7" y2="440.5" stroke="#1e1e1e" stroke-width="0.75"/>
<line x1="277.1" y1="447" x2="279.7" y2="447" stroke="#1e1e1e" stroke-width="0.75"/>
<circle cx="277" cy="441.6" r="1.3" fill="none" stroke="#1a1a1a" stroke-width="0.95"/>
<circle cx="280" cy="441.6" r="1.3" fill="none" stroke="#1a1a1a" stroke-width="0.95"/>
<circle cx="278.4" cy="444.3" r="1.3" fill="none" stroke="#1a1a1a" stroke-width="0.95"/>
<circle cx="278.4" cy="446.3" r="1.3" fill="none" stroke="#1a1a1a" stroke-width="0.95"/>
<circle cx="277" cy="449" r="1.3" fill="none" stroke="#1a1a1a" stroke-width="0.95"/>
<circle cx="280" cy="449" r="1.3" fill="none" stroke="#1a1a1a" stroke-width="0.95"/>
<line x1="292.15" y1="421.5" x2="292.15" y2="432" stroke="#1e1e1e" stroke-width="0.75"/>
<line x1="290.85" y1="421.5" x2="293.45" y2="421.5" stroke="#1e1e1e" stroke-width="0.75"/>
<line x1="290.85" y1="432" x2="293.45" y2="432" stroke="#1e1e1e" stroke-width="0.75"/>
<circle cx="292.15" cy="416.7" r="1.5" fill="#1a1a1a"/>
<circle cx="292.15" cy="426.1" r="1.5" fill="#1a1a1a"/>
<circle cx="290.55" cy="428.8" r="1.5" fill="#1a1a1a"/>
<circle cx="293.55" cy="429.5" r="1.5" fill="#1a1a1a"/>
<circle cx="292.15" cy="432.9" r="1.5" fill="#1a1a1a"/>
<line x1="301.2" y1="441" x2="301.2" y2="451" stroke="#1e1e1e" stroke-width="0.75"/>
<line x1="299.9" y1="441" x2="302.5" y2="441" stroke="#1e1e1e" stroke-width="0.75"/>
<line x1="299.9" y1="451" x2="302.5" y2="451" stroke="#1e1e1e" stroke-width="0.75"/>
<circle cx="301.2" cy="437.6" r="1.3" fill="none" stroke="#1a1a1a" stroke-width="0.95"/>
<circle cx="301.2" cy="440.9" r="1.3" fill="none" stroke="#1a1a1a" stroke-width="0.95"/>
<circle cx="299.5" cy="445" r="1.3" fill="none" stroke="#1a1a1a" stroke-width="0.95"/>
<circle cx="302.5" cy="445" r="1.3" fill="none" stroke="#1a1a1a" stroke-width="0.95"/>
<circle cx="301.2" cy="447.3" r="1.3" fill="none" stroke="#1a1a1a" stroke-width="0.95"/>
<circle cx="301.2" cy="452.1" r="1.3" fill="none" stroke="#1a1a1a" stroke-width="0.95"/>
<text x="277.1" y="440.5" font-size="7" fill="#333" text-anchor="middle" font-weight="bold">*</text>
<text x="279.7" y="440.5" font-size="7" fill="#333" text-anchor="middle" font-weight="bold">*</text>
<text x="299.9" y="437.1" font-size="7" fill="#333" text-anchor="middle" font-weight="bold">*</text>
<text x="302.5" y="437.1" font-size="7" fill="#333" text-anchor="middle" font-weight="bold">*</text>
<line x1="40.4" y1="522.5" x2="40.4" y2="592.8" stroke="#1e1e1e" stroke-width="1.5"/>
<line x1="37.2" y1="525.27" x2="40.4" y2="525.27" stroke="#1e1e1e" stroke-width="1.35"/>
<text x="34.4" y="527.57" font-size="6.4" fill="#333" text-anchor="end">18</text>
<line x1="37.2" y1="537.9" x2="40.4" y2="537.9" stroke="#1e1e1e" stroke-width="1.35"/>
<text x="34.4" y="540.2" font-size="6.4" fill="#333" text-anchor="end">15</text>
<line x1="37.2" y1="550.54" x2="40.4" y2="550.54" stroke="#1e1e1e" stroke-width="1.35"/>
<text x="34.4" y="552.84" font-size="6.4" fill="#333" text-anchor="end">12</text>
<line x1="37.2" y1="563.18" x2="40.4" y2="563.18" stroke="#1e1e1e" stroke-width="1.35"/>
<text x="34.4" y="565.48" font-size="6.4" fill="#333" text-anchor="end">9</text>
<line x1="37.2" y1="575.82" x2="40.4" y2="575.82" stroke="#1e1e1e" stroke-width="1.35"/>
<text x="34.4" y="578.12" font-size="6.4" fill="#333" text-anchor="end">6</text>
<line x1="37.2" y1="588.46" x2="40.4" y2="588.46" stroke="#1e1e1e" stroke-width="1.35"/>
<text x="34.4" y="590.76" font-size="6.4" fill="#333" text-anchor="end">3</text>
<line x1="39.8" y1="592.2" x2="85.4" y2="592.2" stroke="#1e1e1e" stroke-width="1.5"/>
<line x1="51" y1="592.2" x2="51" y2="594.8" stroke="#1e1e1e" stroke-width="1.35"/>
<line x1="74.6" y1="592.2" x2="74.6" y2="594.8" stroke="#1e1e1e" stroke-width="1.35"/>
<text x="51.2" y="604.8" font-size="6.8" fill="#333" text-anchor="middle">Young</text>
<text x="74.3" y="604.8" font-size="6.8" fill="#333" text-anchor="middle">Old</text>
<text transform="translate(21.1,557.8) rotate(-90)" font-size="7.9" fill="#333" text-anchor="middle" textLength="60.3" lengthAdjust="spacingAndGlyphs">BMCs/femur (X10<tspan dy="-2.4" font-size="4.3">6</tspan><tspan dy="2.4">)</tspan></text>
<rect x="43.4" y="549.2" width="6.2" height="43" fill="#f7941d"/>
<rect x="52.5" y="546.3" width="6.1" height="45.9" fill="#2ba3de"/>
<rect x="67.2" y="541.5" width="6" height="50.7" fill="#f7941d"/>
<rect x="76.1" y="552.1" width="6" height="40.1" fill="#2ba3de"/>
<line x1="46.5" y1="544" x2="46.5" y2="554" stroke="#1e1e1e" stroke-width="0.75"/>
<line x1="45.2" y1="544" x2="47.8" y2="544" stroke="#1e1e1e" stroke-width="0.75"/>
<line x1="45.2" y1="554" x2="47.8" y2="554" stroke="#1e1e1e" stroke-width="0.75"/>
<circle cx="45" cy="544.9" r="1.3" fill="none" stroke="#1a1a1a" stroke-width="0.95"/>
<circle cx="48.5" cy="543.9" r="1.3" fill="none" stroke="#1a1a1a" stroke-width="0.95"/>
<circle cx="46.5" cy="546.8" r="1.3" fill="none" stroke="#1a1a1a" stroke-width="0.95"/>
<circle cx="45" cy="548.3" r="1.3" fill="none" stroke="#1a1a1a" stroke-width="0.95"/>
<circle cx="48.5" cy="547.8" r="1.3" fill="none" stroke="#1a1a1a" stroke-width="0.95"/>
<circle cx="46.5" cy="550.2" r="1.3" fill="none" stroke="#1a1a1a" stroke-width="0.95"/>
<circle cx="46.5" cy="553.1" r="1.3" fill="none" stroke="#1a1a1a" stroke-width="0.95"/>
<circle cx="46.5" cy="557.9" r="1.3" fill="none" stroke="#1a1a1a" stroke-width="0.95"/>
<line x1="55.55" y1="541" x2="55.55" y2="552" stroke="#1e1e1e" stroke-width="0.75"/>
<line x1="54.25" y1="541" x2="56.85" y2="541" stroke="#1e1e1e" stroke-width="0.75"/>
<line x1="54.25" y1="552" x2="56.85" y2="552" stroke="#1e1e1e" stroke-width="0.75"/>
<circle cx="55.55" cy="540.1" r="1.3" fill="none" stroke="#1a1a1a" stroke-width="0.95"/>
<circle cx="54.05" cy="542.5" r="1.3" fill="none" stroke="#1a1a1a" stroke-width="0.95"/>
<circle cx="57.05" cy="544.9" r="1.3" fill="none" stroke="#1a1a1a" stroke-width="0.95"/>
<circle cx="55.55" cy="546.8" r="1.3" fill="none" stroke="#1a1a1a" stroke-width="0.95"/>
<circle cx="55.55" cy="552.6" r="1.3" fill="none" stroke="#1a1a1a" stroke-width="0.95"/>
<circle cx="55.55" cy="561.3" r="1.3" fill="none" stroke="#1a1a1a" stroke-width="0.95"/>
<line x1="70.2" y1="537" x2="70.2" y2="546" stroke="#1e1e1e" stroke-width="0.75"/>
<line x1="68.9" y1="537" x2="71.5" y2="537" stroke="#1e1e1e" stroke-width="0.75"/>
<line x1="68.9" y1="546" x2="71.5" y2="546" stroke="#1e1e1e" stroke-width="0.75"/>
<circle cx="69" cy="534.8" r="1.3" fill="none" stroke="#1a1a1a" stroke-width="0.95"/>
<circle cx="72" cy="536.3" r="1.3" fill="none" stroke="#1a1a1a" stroke-width="0.95"/>
<circle cx="70.2" cy="539.6" r="1.3" fill="none" stroke="#1a1a1a" stroke-width="0.95"/>
<circle cx="70.2" cy="543.9" r="1.3" fill="none" stroke="#1a1a1a" stroke-width="0.95"/>
<circle cx="70.2" cy="546.3" r="1.3" fill="none" stroke="#1a1a1a" stroke-width="0.95"/>
<circle cx="72" cy="547.1" r="1.3" fill="none" stroke="#1a1a1a" stroke-width="0.95"/>
<circle cx="70.2" cy="548.8" r="1.3" fill="none" stroke="#1a1a1a" stroke-width="0.95"/>
<line x1="79.1" y1="547" x2="79.1" y2="558" stroke="#1e1e1e" stroke-width="0.75"/>
<line x1="77.8" y1="547" x2="80.4" y2="547" stroke="#1e1e1e" stroke-width="0.75"/>
<line x1="77.8" y1="558" x2="80.4" y2="558" stroke="#1e1e1e" stroke-width="0.75"/>
<circle cx="77.5" cy="545.4" r="1.3" fill="none" stroke="#1a1a1a" stroke-width="0.95"/>
<circle cx="80.5" cy="546.3" r="1.3" fill="none" stroke="#1a1a1a" stroke-width="0.95"/>
<circle cx="79.1" cy="547.8" r="1.3" fill="none" stroke="#1a1a1a" stroke-width="0.95"/>
<circle cx="79.1" cy="553.1" r="1.3" fill="none" stroke="#1a1a1a" stroke-width="0.95"/>
<circle cx="79.1" cy="558.8" r="1.3" fill="none" stroke="#1a1a1a" stroke-width="0.95"/>
<circle cx="77.5" cy="561.7" r="1.3" fill="none" stroke="#1a1a1a" stroke-width="0.95"/>
<text x="79.1" y="544.4" font-size="7" fill="#333" text-anchor="middle" font-weight="bold">*</text>
<line x1="136.9" y1="523.5" x2="136.9" y2="592.8" stroke="#1e1e1e" stroke-width="1.5"/>
<line x1="133.7" y1="526.3" x2="136.9" y2="526.3" stroke="#1e1e1e" stroke-width="1.35"/>
<text x="130.9" y="528.6" font-size="6.4" fill="#333" text-anchor="end">16</text>
<line x1="133.7" y1="545.2" x2="136.9" y2="545.2" stroke="#1e1e1e" stroke-width="1.35"/>
<text x="130.9" y="547.5" font-size="6.4" fill="#333" text-anchor="end">12</text>
<line x1="133.7" y1="564.1" x2="136.9" y2="564.1" stroke="#1e1e1e" stroke-width="1.35"/>
<text x="130.9" y="566.4" font-size="6.4" fill="#333" text-anchor="end">8</text>
<line x1="133.7" y1="583" x2="136.9" y2="583" stroke="#1e1e1e" stroke-width="1.35"/>
<text x="130.9" y="585.3" font-size="6.4" fill="#333" text-anchor="end">4</text>
<line x1="136.3" y1="592.2" x2="181.9" y2="592.2" stroke="#1e1e1e" stroke-width="1.5"/>
<line x1="147.2" y1="592.2" x2="147.2" y2="594.8" stroke="#1e1e1e" stroke-width="1.35"/>
<line x1="170.4" y1="592.2" x2="170.4" y2="594.8" stroke="#1e1e1e" stroke-width="1.35"/>
<text x="147.3" y="604.8" font-size="6.8" fill="#333" text-anchor="middle">Young</text>
<text x="170.4" y="604.8" font-size="6.8" fill="#333" text-anchor="middle">Old</text>
<text transform="translate(117.9,557.9) rotate(-90)" font-size="8.4" fill="#333" text-anchor="middle" textLength="49.8" lengthAdjust="spacingAndGlyphs">% of HSC in LSK</text>
<rect x="139.7" y="564.3" width="5.9" height="27.9" fill="#f7941d"/>
<rect x="148.5" y="565.8" width="6.1" height="26.4" fill="#2ba3de"/>
<rect x="163.2" y="547.5" width="6" height="44.7" fill="#f7941d"/>
<rect x="172.1" y="558.1" width="6" height="34.1" fill="#2ba3de"/>
<line x1="142.65" y1="560" x2="142.65" y2="569" stroke="#1e1e1e" stroke-width="0.75"/>
<line x1="141.35" y1="560" x2="143.95" y2="560" stroke="#1e1e1e" stroke-width="0.75"/>
<line x1="141.35" y1="569" x2="143.95" y2="569" stroke="#1e1e1e" stroke-width="0.75"/>
<circle cx="142.65" cy="557.6" r="1.3" fill="none" stroke="#1a1a1a" stroke-width="0.95"/>
<circle cx="141.05" cy="561" r="1.3" fill="none" stroke="#1a1a1a" stroke-width="0.95"/>
<circle cx="144.05" cy="562.9" r="1.3" fill="none" stroke="#1a1a1a" stroke-width="0.95"/>
<circle cx="141.55" cy="565.6" r="1.3" fill="none" stroke="#1a1a1a" stroke-width="0.95"/>
<circle cx="144.05" cy="566.3" r="1.3" fill="none" stroke="#1a1a1a" stroke-width="0.95"/>
<circle cx="142.65" cy="569.1" r="1.3" fill="none" stroke="#1a1a1a" stroke-width="0.95"/>
<circle cx="142.65" cy="574.9" r="1.3" fill="none" stroke="#1a1a1a" stroke-width="0.95"/>
<line x1="151.55" y1="561" x2="151.55" y2="570" stroke="#1e1e1e" stroke-width="0.75"/>
<line x1="150.25" y1="561" x2="152.85" y2="561" stroke="#1e1e1e" stroke-width="0.75"/>
<line x1="150.25" y1="570" x2="152.85" y2="570" stroke="#1e1e1e" stroke-width="0.75"/>
<circle cx="153.95" cy="558.6" r="1.3" fill="none" stroke="#1a1a1a" stroke-width="0.95"/>
<circle cx="149.95" cy="560.5" r="1.3" fill="none" stroke="#1a1a1a" stroke-width="0.95"/>
<circle cx="151.95" cy="562.9" r="1.3" fill="none" stroke="#1a1a1a" stroke-width="0.95"/>
<circle cx="151.55" cy="566.7" r="1.3" fill="none" stroke="#1a1a1a" stroke-width="0.95"/>
<circle cx="151.55" cy="572" r="1.3" fill="none" stroke="#1a1a1a" stroke-width="0.95"/>
<circle cx="151.55" cy="574.9" r="1.3" fill="none" stroke="#1a1a1a" stroke-width="0.95"/>
<line x1="166.2" y1="543" x2="166.2" y2="556" stroke="#1e1e1e" stroke-width="0.75"/>
<line x1="164.9" y1="543" x2="167.5" y2="543" stroke="#1e1e1e" stroke-width="0.75"/>
<line x1="164.9" y1="556" x2="167.5" y2="556" stroke="#1e1e1e" stroke-width="0.75"/>
<circle cx="166.2" cy="539.8" r="1.3" fill="none" stroke="#1a1a1a" stroke-width="0.95"/>
<circle cx="165" cy="542.7" r="1.3" fill="none" stroke="#1a1a1a" stroke-width="0.95"/>
<circle cx="168" cy="544.6" r="1.3" fill="none" stroke="#1a1a1a" stroke-width="0.95"/>
<circle cx="166.2" cy="548.5" r="1.3" fill="none" stroke="#1a1a1a" stroke-width="0.95"/>
<circle cx="167.5" cy="555.2" r="1.3" fill="none" stroke="#1a1a1a" stroke-width="0.95"/>
<circle cx="165" cy="558.1" r="1.3" fill="none" stroke="#1a1a1a" stroke-width="0.95"/>
<line x1="175.1" y1="554" x2="175.1" y2="562" stroke="#1e1e1e" stroke-width="0.75"/>
<line x1="173.8" y1="554" x2="176.4" y2="554" stroke="#1e1e1e" stroke-width="0.75"/>
<line x1="173.8" y1="562" x2="176.4" y2="562" stroke="#1e1e1e" stroke-width="0.75"/>
<circle cx="175.1" cy="553.3" r="1.3" fill="none" stroke="#1a1a1a" stroke-width="0.95"/>
<circle cx="175.1" cy="555.7" r="1.3" fill="none" stroke="#1a1a1a" stroke-width="0.95"/>
<circle cx="173.5" cy="558.1" r="1.3" fill="none" stroke="#1a1a1a" stroke-width="0.95"/>
<circle cx="176.5" cy="558.1" r="1.3" fill="none" stroke="#1a1a1a" stroke-width="0.95"/>
<circle cx="175.1" cy="562.9" r="1.3" fill="none" stroke="#1a1a1a" stroke-width="0.95"/>
<text x="173.8" y="553" font-size="7" fill="#333" text-anchor="middle" font-weight="bold">*</text>
<text x="176.4" y="553" font-size="7" fill="#333" text-anchor="middle" font-weight="bold">*</text>
<circle cx="140.4" cy="526.9" r="1.4" fill="none" stroke="#1a1a1a" stroke-width="1.15"/>
<text x="145" y="529.2" font-size="6.3" fill="#f8a23c" textLength="10.5" lengthAdjust="spacingAndGlyphs">IgG</text>
<circle cx="159.5" cy="526.9" r="1.4" fill="none" stroke="#1a1a1a" stroke-width="1.15"/>
<text x="163.5" y="529.2" font-size="6.3" fill="#4cb2e4" textLength="22" lengthAdjust="spacingAndGlyphs">α-AREG</text>
<line x1="240.4" y1="523" x2="240.4" y2="592.8" stroke="#1e1e1e" stroke-width="1.5"/>
<line x1="237.2" y1="525.8" x2="240.4" y2="525.8" stroke="#1e1e1e" stroke-width="1.35"/>
<text x="234.4" y="528.1" font-size="6.4" fill="#333" text-anchor="end">100</text>
<line x1="237.2" y1="539.08" x2="240.4" y2="539.08" stroke="#1e1e1e" stroke-width="1.35"/>
<text x="234.4" y="541.38" font-size="6.4" fill="#333" text-anchor="end">80</text>
<line x1="237.2" y1="552.36" x2="240.4" y2="552.36" stroke="#1e1e1e" stroke-width="1.35"/>
<text x="234.4" y="554.66" font-size="6.4" fill="#333" text-anchor="end">60</text>
<line x1="237.2" y1="565.64" x2="240.4" y2="565.64" stroke="#1e1e1e" stroke-width="1.35"/>
<text x="234.4" y="567.94" font-size="6.4" fill="#333" text-anchor="end">40</text>
<line x1="237.2" y1="578.92" x2="240.4" y2="578.92" stroke="#1e1e1e" stroke-width="1.35"/>
<text x="234.4" y="581.22" font-size="6.4" fill="#333" text-anchor="end">20</text>
<line x1="237.2" y1="592.2" x2="240.4" y2="592.2" stroke="#1e1e1e" stroke-width="1.35"/>
<text x="234.4" y="594.5" font-size="6.4" fill="#333" text-anchor="end">0</text>
<line x1="239.8" y1="592.2" x2="284.2" y2="592.2" stroke="#1e1e1e" stroke-width="1.5"/>
<line x1="250.8" y1="592.2" x2="250.8" y2="594.8" stroke="#1e1e1e" stroke-width="1.35"/>
<line x1="274.3" y1="592.2" x2="274.3" y2="594.8" stroke="#1e1e1e" stroke-width="1.35"/>
<text x="250.8" y="604.8" font-size="6.8" fill="#333" text-anchor="middle">Young</text>
<text x="274.3" y="604.8" font-size="6.8" fill="#333" text-anchor="middle">Old</text>
<text transform="translate(217.4,557.9) rotate(-90)" font-size="8.4" fill="#333" text-anchor="middle" textLength="61.4" lengthAdjust="spacingAndGlyphs">% of mbHSC in HSC</text>
<rect x="243.4" y="556.7" width="6.2" height="35.5" fill="#f7941d"/>
<rect x="252" y="558.2" width="6.3" height="34" fill="#2ba3de"/>
<rect x="266.7" y="540.9" width="6" height="51.3" fill="#f7941d"/>
<rect x="276.1" y="552.9" width="5.7" height="39.3" fill="#2ba3de"/>
<line x1="246.5" y1="551" x2="246.5" y2="561" stroke="#1e1e1e" stroke-width="0.75"/>
<line x1="245.2" y1="551" x2="247.8" y2="551" stroke="#1e1e1e" stroke-width="0.75"/>
<line x1="245.2" y1="561" x2="247.8" y2="561" stroke="#1e1e1e" stroke-width="0.75"/>
<circle cx="245" cy="550.2" r="1.3" fill="none" stroke="#1a1a1a" stroke-width="0.95"/>
<circle cx="248.5" cy="548.6" r="1.3" fill="none" stroke="#1a1a1a" stroke-width="0.95"/>
<circle cx="246.5" cy="555.8" r="1.3" fill="none" stroke="#1a1a1a" stroke-width="0.95"/>
<circle cx="245" cy="558.2" r="1.3" fill="none" stroke="#1a1a1a" stroke-width="0.95"/>
<circle cx="248" cy="559.1" r="1.3" fill="none" stroke="#1a1a1a" stroke-width="0.95"/>
<circle cx="245.5" cy="561.5" r="1.3" fill="none" stroke="#1a1a1a" stroke-width="0.95"/>
<circle cx="248" cy="560.6" r="1.3" fill="none" stroke="#1a1a1a" stroke-width="0.95"/>
<line x1="255.15" y1="553" x2="255.15" y2="563" stroke="#1e1e1e" stroke-width="0.75"/>
<line x1="253.85" y1="553" x2="256.45" y2="553" stroke="#1e1e1e" stroke-width="0.75"/>
<line x1="253.85" y1="563" x2="256.45" y2="563" stroke="#1e1e1e" stroke-width="0.75"/>
<circle cx="255.15" cy="552.9" r="1.3" fill="none" stroke="#1a1a1a" stroke-width="0.95"/>
<circle cx="255.15" cy="555.8" r="1.3" fill="none" stroke="#1a1a1a" stroke-width="0.95"/>
<circle cx="253.45" cy="558.2" r="1.3" fill="none" stroke="#1a1a1a" stroke-width="0.95"/>
<circle cx="256.95" cy="558.7" r="1.3" fill="none" stroke="#1a1a1a" stroke-width="0.95"/>
<circle cx="255.15" cy="561.5" r="1.3" fill="none" stroke="#1a1a1a" stroke-width="0.95"/>
<circle cx="253.45" cy="563.5" r="1.3" fill="none" stroke="#1a1a1a" stroke-width="0.95"/>
<line x1="269.7" y1="535" x2="269.7" y2="546" stroke="#1e1e1e" stroke-width="0.75"/>
<line x1="268.4" y1="535" x2="271" y2="535" stroke="#1e1e1e" stroke-width="0.75"/>
<line x1="268.4" y1="546" x2="271" y2="546" stroke="#1e1e1e" stroke-width="0.75"/>
<circle cx="268" cy="532.7" r="1.3" fill="none" stroke="#1a1a1a" stroke-width="0.95"/>
<circle cx="272" cy="531.7" r="1.3" fill="none" stroke="#1a1a1a" stroke-width="0.95"/>
<circle cx="269.7" cy="537.5" r="1.3" fill="none" stroke="#1a1a1a" stroke-width="0.95"/>
<circle cx="268.5" cy="540.4" r="1.3" fill="none" stroke="#1a1a1a" stroke-width="0.95"/>
<circle cx="271" cy="541.8" r="1.3" fill="none" stroke="#1a1a1a" stroke-width="0.95"/>
<circle cx="269.7" cy="543.3" r="1.3" fill="none" stroke="#1a1a1a" stroke-width="0.95"/>
<circle cx="269.7" cy="545.7" r="1.3" fill="none" stroke="#1a1a1a" stroke-width="0.95"/>
<line x1="278.95" y1="548" x2="278.95" y2="558" stroke="#1e1e1e" stroke-width="0.75"/>
<line x1="277.65" y1="548" x2="280.25" y2="548" stroke="#1e1e1e" stroke-width="0.75"/>
<line x1="277.65" y1="558" x2="280.25" y2="558" stroke="#1e1e1e" stroke-width="0.75"/>
<circle cx="278.95" cy="548.6" r="1.3" fill="none" stroke="#1a1a1a" stroke-width="0.95"/>
<circle cx="278.95" cy="551" r="1.3" fill="none" stroke="#1a1a1a" stroke-width="0.95"/>
<circle cx="277.55" cy="552.9" r="1.3" fill="none" stroke="#1a1a1a" stroke-width="0.95"/>
<circle cx="280.55" cy="553.8" r="1.3" fill="none" stroke="#1a1a1a" stroke-width="0.95"/>
<circle cx="278.95" cy="558.7" r="1.3" fill="none" stroke="#1a1a1a" stroke-width="0.95"/>
<circle cx="278.95" cy="562" r="1.3" fill="none" stroke="#1a1a1a" stroke-width="0.95"/>
<text x="277.6" y="547.6" font-size="7" fill="#333" text-anchor="middle" font-weight="bold">*</text>
<text x="280.2" y="547.6" font-size="7" fill="#333" text-anchor="middle" font-weight="bold">*</text>
<text x="322.7" y="403.5" font-size="11.7" fill="#111" font-weight="bold" stroke="#111" stroke-width="0.55">F</text>
<line x1="348.4" y1="407.5" x2="348.4" y2="480.5" stroke="#1e1e1e" stroke-width="1.5"/>
<line x1="345.2" y1="410.1" x2="348.4" y2="410.1" stroke="#1e1e1e" stroke-width="1.35"/>
<text x="342.4" y="412.4" font-size="6.4" fill="#333" text-anchor="end">80</text>
<line x1="345.2" y1="427.55" x2="348.4" y2="427.55" stroke="#1e1e1e" stroke-width="1.35"/>
<text x="342.4" y="429.85" font-size="6.4" fill="#333" text-anchor="end">60</text>
<line x1="345.2" y1="445" x2="348.4" y2="445" stroke="#1e1e1e" stroke-width="1.35"/>
<text x="342.4" y="447.3" font-size="6.4" fill="#333" text-anchor="end">40</text>
<line x1="345.2" y1="462.45" x2="348.4" y2="462.45" stroke="#1e1e1e" stroke-width="1.35"/>
<text x="342.4" y="464.75" font-size="6.4" fill="#333" text-anchor="end">20</text>
<line x1="345.2" y1="479.9" x2="348.4" y2="479.9" stroke="#1e1e1e" stroke-width="1.35"/>
<text x="342.4" y="482.2" font-size="6.4" fill="#333" text-anchor="end">0</text>
<line x1="347.8" y1="479.9" x2="418.7" y2="479.9" stroke="#1e1e1e" stroke-width="1.5"/>
<line x1="359.7" y1="479.9" x2="359.7" y2="482.5" stroke="#1e1e1e" stroke-width="1.35"/>
<line x1="383.7" y1="479.9" x2="383.7" y2="482.5" stroke="#1e1e1e" stroke-width="1.35"/>
<line x1="408" y1="479.9" x2="408" y2="482.5" stroke="#1e1e1e" stroke-width="1.35"/>
<text x="359.9" y="491.3" font-size="6.8" fill="#333" text-anchor="middle" textLength="10" lengthAdjust="spacingAndGlyphs">WT</text>
<text x="384" y="491.3" font-size="6.8" fill="#333" text-anchor="middle" textLength="27" lengthAdjust="spacingAndGlyphs" font-style="italic">Fancd2<tspan dy="-2.7" font-size="3.9">–/–</tspan></text>
<text x="408.2" y="491.3" font-size="6.8" fill="#333" text-anchor="middle" textLength="19.4" lengthAdjust="spacingAndGlyphs" font-style="italic">Atm<tspan dy="-2.7" font-size="3.9">–/–</tspan></text>
<text transform="translate(329.7,442.9) rotate(-90)" font-size="7.6" fill="#333" text-anchor="middle" textLength="70.8" lengthAdjust="spacingAndGlyphs">Donor-derived cells (%)</text>
<rect x="351.9" y="428.2" width="6.1" height="51.7" fill="#c8102e"/>
<rect x="361.2" y="426.8" width="6.2" height="53.1" fill="#3aaa35"/>
<rect x="375.7" y="462.1" width="6.6" height="17.8" fill="#c8102e"/>
<rect x="385.1" y="451" width="6.5" height="28.9" fill="#3aaa35"/>
<rect x="399.9" y="464.8" width="6.3" height="15.1" fill="#c8102e"/>
<rect x="409.6" y="454.5" width="6.2" height="25.4" fill="#3aaa35"/>
<line x1="354.95" y1="424.5" x2="354.95" y2="433" stroke="#1e1e1e" stroke-width="0.75"/>
<line x1="353.65" y1="424.5" x2="356.25" y2="424.5" stroke="#1e1e1e" stroke-width="0.75"/>
<line x1="353.65" y1="433" x2="356.25" y2="433" stroke="#1e1e1e" stroke-width="0.75"/>
<circle cx="352.95" cy="425.4" r="1.5" fill="#1a1a1a"/>
<circle cx="356.95" cy="425.4" r="1.5" fill="#1a1a1a"/>
<circle cx="354.95" cy="426.8" r="1.5" fill="#1a1a1a"/>
<circle cx="354.95" cy="428.8" r="1.5" fill="#1a1a1a"/>
<circle cx="354.95" cy="433" r="1.5" fill="#1a1a1a"/>
<circle cx="354.95" cy="436.5" r="1.5" fill="#1a1a1a"/>
<line x1="364.3" y1="422.5" x2="364.3" y2="431" stroke="#1e1e1e" stroke-width="0.75"/>
<line x1="363" y1="422.5" x2="365.6" y2="422.5" stroke="#1e1e1e" stroke-width="0.75"/>
<line x1="363" y1="431" x2="365.6" y2="431" stroke="#1e1e1e" stroke-width="0.75"/>
<circle cx="364.3" cy="421.2" r="1.3" fill="none" stroke="#1a1a1a" stroke-width="0.95"/>
<circle cx="362.5" cy="424.7" r="1.3" fill="none" stroke="#1a1a1a" stroke-width="0.95"/>
<circle cx="366" cy="425.4" r="1.3" fill="none" stroke="#1a1a1a" stroke-width="0.95"/>
<circle cx="364.3" cy="427.5" r="1.3" fill="none" stroke="#1a1a1a" stroke-width="0.95"/>
<circle cx="363" cy="428.8" r="1.3" fill="none" stroke="#1a1a1a" stroke-width="0.95"/>
<circle cx="366" cy="428.8" r="1.3" fill="none" stroke="#1a1a1a" stroke-width="0.95"/>
<circle cx="364.3" cy="437.2" r="1.3" fill="none" stroke="#1a1a1a" stroke-width="0.95"/>
<line x1="379" y1="457" x2="379" y2="466" stroke="#1e1e1e" stroke-width="0.75"/>
<line x1="377.7" y1="457" x2="380.3" y2="457" stroke="#1e1e1e" stroke-width="0.75"/>
<line x1="377.7" y1="466" x2="380.3" y2="466" stroke="#1e1e1e" stroke-width="0.75"/>
<circle cx="379" cy="456.3" r="1.5" fill="#1a1a1a"/>
<circle cx="379" cy="459" r="1.5" fill="#1a1a1a"/>
<circle cx="377.5" cy="462.1" r="1.5" fill="#1a1a1a"/>
<circle cx="380.5" cy="462.1" r="1.5" fill="#1a1a1a"/>
<circle cx="379" cy="465.5" r="1.5" fill="#1a1a1a"/>
<line x1="388.35" y1="445" x2="388.35" y2="457" stroke="#1e1e1e" stroke-width="0.75"/>
<line x1="387.05" y1="445" x2="389.65" y2="445" stroke="#1e1e1e" stroke-width="0.75"/>
<line x1="387.05" y1="457" x2="389.65" y2="457" stroke="#1e1e1e" stroke-width="0.75"/>
<circle cx="386.55" cy="443.4" r="1.3" fill="none" stroke="#1a1a1a" stroke-width="0.95"/>
<circle cx="390.05" cy="442" r="1.3" fill="none" stroke="#1a1a1a" stroke-width="0.95"/>
<circle cx="388.35" cy="448" r="1.3" fill="none" stroke="#1a1a1a" stroke-width="0.95"/>
<circle cx="386.55" cy="451.3" r="1.3" fill="none" stroke="#1a1a1a" stroke-width="0.95"/>
<circle cx="390.05" cy="452.1" r="1.3" fill="none" stroke="#1a1a1a" stroke-width="0.95"/>
<circle cx="388.35" cy="455.2" r="1.3" fill="none" stroke="#1a1a1a" stroke-width="0.95"/>
<circle cx="388.35" cy="460.7" r="1.3" fill="none" stroke="#1a1a1a" stroke-width="0.95"/>
<line x1="403.05" y1="459" x2="403.05" y2="469" stroke="#1e1e1e" stroke-width="0.75"/>
<line x1="401.75" y1="459" x2="404.35" y2="459" stroke="#1e1e1e" stroke-width="0.75"/>
<line x1="401.75" y1="469" x2="404.35" y2="469" stroke="#1e1e1e" stroke-width="0.75"/>
<circle cx="403.05" cy="456.3" r="1.5" fill="#1a1a1a"/>
<circle cx="403.05" cy="460.7" r="1.5" fill="#1a1a1a"/>
<circle cx="403.05" cy="463.5" r="1.5" fill="#1a1a1a"/>
<circle cx="401.55" cy="466.2" r="1.5" fill="#1a1a1a"/>
<circle cx="404.55" cy="466.2" r="1.5" fill="#1a1a1a"/>
<line x1="412.7" y1="449" x2="412.7" y2="460" stroke="#1e1e1e" stroke-width="0.75"/>
<line x1="411.4" y1="449" x2="414" y2="449" stroke="#1e1e1e" stroke-width="0.75"/>
<line x1="411.4" y1="460" x2="414" y2="460" stroke="#1e1e1e" stroke-width="0.75"/>
<circle cx="411" cy="448.9" r="1.3" fill="none" stroke="#1a1a1a" stroke-width="0.95"/>
<circle cx="414.5" cy="447.5" r="1.3" fill="none" stroke="#1a1a1a" stroke-width="0.95"/>
<circle cx="412.7" cy="452.4" r="1.3" fill="none" stroke="#1a1a1a" stroke-width="0.95"/>
<circle cx="411" cy="456.5" r="1.3" fill="none" stroke="#1a1a1a" stroke-width="0.95"/>
<circle cx="414.5" cy="457.9" r="1.3" fill="none" stroke="#1a1a1a" stroke-width="0.95"/>
<circle cx="412.7" cy="460" r="1.3" fill="none" stroke="#1a1a1a" stroke-width="0.95"/>
<circle cx="412.7" cy="462.1" r="1.3" fill="none" stroke="#1a1a1a" stroke-width="0.95"/>
<text x="387" y="440.8" font-size="7" fill="#333" text-anchor="middle" font-weight="bold">*</text>
<text x="389.6" y="440.8" font-size="7" fill="#333" text-anchor="middle" font-weight="bold">*</text>
<text x="411.4" y="447" font-size="7" fill="#333" text-anchor="middle" font-weight="bold">*</text>
<text x="414" y="447" font-size="7" fill="#333" text-anchor="middle" font-weight="bold">*</text>
<circle cx="388" cy="410.1" r="1.5" fill="#1a1a1a"/>
<text x="392.8" y="412.4" font-size="6.3" fill="#d23c5a" textLength="10.5" lengthAdjust="spacingAndGlyphs">IgG</text>
<circle cx="388" cy="420" r="1.4" fill="none" stroke="#1a1a1a" stroke-width="1.15"/>
<text x="392.8" y="422.3" font-size="6.3" fill="#5cb85a" textLength="24" lengthAdjust="spacingAndGlyphs">α-AREG</text>
<line x1="452" y1="407.5" x2="452" y2="480.5" stroke="#1e1e1e" stroke-width="1.5"/>
<line x1="448.8" y1="410.1" x2="452" y2="410.1" stroke="#1e1e1e" stroke-width="1.35"/>
<text x="446" y="412.4" font-size="6.4" fill="#333" text-anchor="end">80</text>
<line x1="448.8" y1="427.55" x2="452" y2="427.55" stroke="#1e1e1e" stroke-width="1.35"/>
<text x="446" y="429.85" font-size="6.4" fill="#333" text-anchor="end">60</text>
<line x1="448.8" y1="445" x2="452" y2="445" stroke="#1e1e1e" stroke-width="1.35"/>
<text x="446" y="447.3" font-size="6.4" fill="#333" text-anchor="end">40</text>
<line x1="448.8" y1="462.45" x2="452" y2="462.45" stroke="#1e1e1e" stroke-width="1.35"/>
<text x="446" y="464.75" font-size="6.4" fill="#333" text-anchor="end">20</text>
<line x1="448.8" y1="479.9" x2="452" y2="479.9" stroke="#1e1e1e" stroke-width="1.35"/>
<text x="446" y="482.2" font-size="6.4" fill="#333" text-anchor="end">0</text>
<line x1="451.4" y1="479.9" x2="495.4" y2="479.9" stroke="#1e1e1e" stroke-width="1.5"/>
<line x1="462.6" y1="479.9" x2="462.6" y2="482.5" stroke="#1e1e1e" stroke-width="1.35"/>
<line x1="485.7" y1="479.9" x2="485.7" y2="482.5" stroke="#1e1e1e" stroke-width="1.35"/>
<text x="461.8" y="492.2" font-size="6.8" fill="#333" text-anchor="middle">Young</text>
<text x="485.3" y="492.2" font-size="6.8" fill="#333" text-anchor="middle">Aged</text>
<text transform="translate(432.7,443.2) rotate(-90)" font-size="7.6" fill="#333" text-anchor="middle" textLength="71.5" lengthAdjust="spacingAndGlyphs">Donor-derived cells (%)</text>
<rect x="455" y="429.9" width="6.1" height="50" fill="#f7941d"/>
<rect x="464.2" y="426.5" width="6" height="53.4" fill="#2ba3de"/>
<rect x="478.4" y="462.6" width="5.9" height="17.3" fill="#f7941d"/>
<rect x="487" y="446.7" width="6.1" height="33.2" fill="#2ba3de"/>
<line x1="458.05" y1="424" x2="458.05" y2="435" stroke="#1e1e1e" stroke-width="0.75"/>
<line x1="456.75" y1="424" x2="459.35" y2="424" stroke="#1e1e1e" stroke-width="0.75"/>
<line x1="456.75" y1="435" x2="459.35" y2="435" stroke="#1e1e1e" stroke-width="0.75"/>
<circle cx="456.05" cy="421.7" r="1.3" fill="none" stroke="#1a1a1a" stroke-width="0.95"/>
<circle cx="458.55" cy="424.1" r="1.3" fill="none" stroke="#1a1a1a" stroke-width="0.95"/>
<circle cx="458.05" cy="430.4" r="1.3" fill="none" stroke="#1a1a1a" stroke-width="0.95"/>
<circle cx="456.55" cy="433.3" r="1.3" fill="none" stroke="#1a1a1a" stroke-width="0.95"/>
<circle cx="459.55" cy="432.3" r="1.3" fill="none" stroke="#1a1a1a" stroke-width="0.95"/>
<circle cx="456.55" cy="434.7" r="1.3" fill="none" stroke="#1a1a1a" stroke-width="0.95"/>
<circle cx="459.55" cy="434.7" r="1.3" fill="none" stroke="#1a1a1a" stroke-width="0.95"/>
<line x1="467.2" y1="420" x2="467.2" y2="433" stroke="#1e1e1e" stroke-width="0.75"/>
<line x1="465.9" y1="420" x2="468.5" y2="420" stroke="#1e1e1e" stroke-width="0.75"/>
<line x1="465.9" y1="433" x2="468.5" y2="433" stroke="#1e1e1e" stroke-width="0.75"/>
<circle cx="465.5" cy="418.4" r="1.3" fill="none" stroke="#1a1a1a" stroke-width="0.95"/>
<circle cx="469" cy="418.4" r="1.3" fill="none" stroke="#1a1a1a" stroke-width="0.95"/>
<circle cx="467.2" cy="420.3" r="1.3" fill="none" stroke="#1a1a1a" stroke-width="0.95"/>
<circle cx="467.2" cy="428.5" r="1.3" fill="none" stroke="#1a1a1a" stroke-width="0.95"/>
<circle cx="467.2" cy="431.8" r="1.3" fill="none" stroke="#1a1a1a" stroke-width="0.95"/>
<circle cx="467.2" cy="439" r="1.3" fill="none" stroke="#1a1a1a" stroke-width="0.95"/>
<line x1="481.35" y1="458" x2="481.35" y2="466" stroke="#1e1e1e" stroke-width="0.75"/>
<line x1="480.05" y1="458" x2="482.65" y2="458" stroke="#1e1e1e" stroke-width="0.75"/>
<line x1="480.05" y1="466" x2="482.65" y2="466" stroke="#1e1e1e" stroke-width="0.75"/>
<circle cx="479.95" cy="456.3" r="1.3" fill="none" stroke="#1a1a1a" stroke-width="0.95"/>
<circle cx="482.95" cy="457.3" r="1.3" fill="none" stroke="#1a1a1a" stroke-width="0.95"/>
<circle cx="481.35" cy="460.2" r="1.3" fill="none" stroke="#1a1a1a" stroke-width="0.95"/>
<circle cx="479.95" cy="462.1" r="1.3" fill="none" stroke="#1a1a1a" stroke-width="0.95"/>
<circle cx="482.95" cy="463.1" r="1.3" fill="none" stroke="#1a1a1a" stroke-width="0.95"/>
<circle cx="481.35" cy="464.5" r="1.3" fill="none" stroke="#1a1a1a" stroke-width="0.95"/>
<line x1="490.05" y1="442" x2="490.05" y2="451" stroke="#1e1e1e" stroke-width="0.75"/>
<line x1="488.75" y1="442" x2="491.35" y2="442" stroke="#1e1e1e" stroke-width="0.75"/>
<line x1="488.75" y1="451" x2="491.35" y2="451" stroke="#1e1e1e" stroke-width="0.75"/>
<circle cx="490.05" cy="441.4" r="1.3" fill="none" stroke="#1a1a1a" stroke-width="0.95"/>
<circle cx="488.55" cy="443.8" r="1.3" fill="none" stroke="#1a1a1a" stroke-width="0.95"/>
<circle cx="491.55" cy="444.3" r="1.3" fill="none" stroke="#1a1a1a" stroke-width="0.95"/>
<circle cx="490.05" cy="445.8" r="1.3" fill="none" stroke="#1a1a1a" stroke-width="0.95"/>
<circle cx="490.05" cy="447.7" r="1.3" fill="none" stroke="#1a1a1a" stroke-width="0.95"/>
<circle cx="490.05" cy="452" r="1.3" fill="none" stroke="#1a1a1a" stroke-width="0.95"/>
<text x="488.7" y="441.5" font-size="7" fill="#333" text-anchor="middle" font-weight="bold">*</text>
<text x="491.3" y="441.5" font-size="7" fill="#333" text-anchor="middle" font-weight="bold">*</text>
<circle cx="476.6" cy="410.2" r="1.4" fill="none" stroke="#1a1a1a" stroke-width="1.15"/>
<text x="481.2" y="412.5" font-size="6.3" fill="#f8a23c" textLength="10.5" lengthAdjust="spacingAndGlyphs">IgG</text>
<circle cx="476.6" cy="419.9" r="1.4" fill="none" stroke="#1a1a1a" stroke-width="1.15"/>
<text x="481.2" y="422.2" font-size="6.3" fill="#4cb2e4" textLength="24" lengthAdjust="spacingAndGlyphs">α-AREG</text>
<text x="322.6" y="515.5" font-size="11.7" fill="#111" font-weight="bold" stroke="#111" stroke-width="0.55">G</text>
<line x1="349.2" y1="523" x2="349.2" y2="593.6" stroke="#1e1e1e" stroke-width="1.5"/>
<line x1="346" y1="525.8" x2="349.2" y2="525.8" stroke="#1e1e1e" stroke-width="1.35"/>
<text x="343.2" y="528.1" font-size="6.4" fill="#333" text-anchor="end">80</text>
<line x1="346" y1="542.6" x2="349.2" y2="542.6" stroke="#1e1e1e" stroke-width="1.35"/>
<text x="343.2" y="544.9" font-size="6.4" fill="#333" text-anchor="end">60</text>
<line x1="346" y1="559.4" x2="349.2" y2="559.4" stroke="#1e1e1e" stroke-width="1.35"/>
<text x="343.2" y="561.7" font-size="6.4" fill="#333" text-anchor="end">40</text>
<line x1="346" y1="576.2" x2="349.2" y2="576.2" stroke="#1e1e1e" stroke-width="1.35"/>
<text x="343.2" y="578.5" font-size="6.4" fill="#333" text-anchor="end">20</text>
<line x1="346" y1="593" x2="349.2" y2="593" stroke="#1e1e1e" stroke-width="1.35"/>
<text x="343.2" y="595.3" font-size="6.4" fill="#333" text-anchor="end">0</text>
<line x1="348.6" y1="593" x2="423" y2="593" stroke="#1e1e1e" stroke-width="1.5"/>
<line x1="360" y1="593" x2="360" y2="595.6" stroke="#1e1e1e" stroke-width="1.35"/>
<line x1="384" y1="593" x2="384" y2="595.6" stroke="#1e1e1e" stroke-width="1.35"/>
<line x1="408.3" y1="593" x2="408.3" y2="595.6" stroke="#1e1e1e" stroke-width="1.35"/>
<text x="359.9" y="603.7" font-size="6.8" fill="#333" text-anchor="middle" textLength="10" lengthAdjust="spacingAndGlyphs">WT</text>
<text x="383.7" y="603.7" font-size="6.8" fill="#333" text-anchor="middle" textLength="27" lengthAdjust="spacingAndGlyphs" font-style="italic">Fancd2<tspan dy="-2.7" font-size="3.9">–/–</tspan></text>
<text x="408" y="603.7" font-size="6.8" fill="#333" text-anchor="middle" textLength="19.4" lengthAdjust="spacingAndGlyphs" font-style="italic">Atm<tspan dy="-2.7" font-size="3.9">–/–</tspan></text>
<text transform="translate(329.7,557.5) rotate(-90)" font-size="7.6" fill="#333" text-anchor="middle" textLength="71.5" lengthAdjust="spacingAndGlyphs">Donor-derived cells (%)</text>
<rect x="352" y="548.8" width="6.4" height="44.2" fill="#c8102e"/>
<rect x="361.2" y="548.8" width="6.5" height="44.2" fill="#3aaa35"/>
<rect x="376.4" y="565.5" width="6.2" height="27.5" fill="#c8102e"/>
<rect x="385.3" y="548.2" width="6.3" height="44.8" fill="#3aaa35"/>
<rect x="400.9" y="564.1" width="6.3" height="28.9" fill="#c8102e"/>
<rect x="409.9" y="554.4" width="6.3" height="38.6" fill="#3aaa35"/>
<line x1="355.2" y1="544" x2="355.2" y2="555" stroke="#1e1e1e" stroke-width="0.75"/>
<line x1="353.9" y1="544" x2="356.5" y2="544" stroke="#1e1e1e" stroke-width="0.75"/>
<line x1="353.9" y1="555" x2="356.5" y2="555" stroke="#1e1e1e" stroke-width="0.75"/>
<circle cx="355.2" cy="542.6" r="1.5" fill="#1a1a1a"/>
<circle cx="353.5" cy="548.2" r="1.5" fill="#1a1a1a"/>
<circle cx="357" cy="548.8" r="1.5" fill="#1a1a1a"/>
<circle cx="355.2" cy="551.6" r="1.5" fill="#1a1a1a"/>
<circle cx="355.2" cy="556.5" r="1.5" fill="#1a1a1a"/>
<line x1="364.45" y1="543.5" x2="364.45" y2="554" stroke="#1e1e1e" stroke-width="0.75"/>
<line x1="363.15" y1="543.5" x2="365.75" y2="543.5" stroke="#1e1e1e" stroke-width="0.75"/>
<line x1="363.15" y1="554" x2="365.75" y2="554" stroke="#1e1e1e" stroke-width="0.75"/>
<circle cx="364.45" cy="539.8" r="1.3" fill="none" stroke="#1a1a1a" stroke-width="0.95"/>
<circle cx="364.45" cy="546.8" r="1.3" fill="none" stroke="#1a1a1a" stroke-width="0.95"/>
<circle cx="362.55" cy="549.5" r="1.3" fill="none" stroke="#1a1a1a" stroke-width="0.95"/>
<circle cx="366.05" cy="550.2" r="1.3" fill="none" stroke="#1a1a1a" stroke-width="0.95"/>
<circle cx="363.05" cy="553.7" r="1.3" fill="none" stroke="#1a1a1a" stroke-width="0.95"/>
<circle cx="366.05" cy="555.8" r="1.3" fill="none" stroke="#1a1a1a" stroke-width="0.95"/>
<line x1="379.5" y1="561" x2="379.5" y2="569" stroke="#1e1e1e" stroke-width="0.75"/>
<line x1="378.2" y1="561" x2="380.8" y2="561" stroke="#1e1e1e" stroke-width="0.75"/>
<line x1="378.2" y1="569" x2="380.8" y2="569" stroke="#1e1e1e" stroke-width="0.75"/>
<circle cx="382.5" cy="559.9" r="1.5" fill="#1a1a1a"/>
<circle cx="377.5" cy="562" r="1.5" fill="#1a1a1a"/>
<circle cx="379.5" cy="563.4" r="1.5" fill="#1a1a1a"/>
<circle cx="379.5" cy="567.5" r="1.5" fill="#1a1a1a"/>
<line x1="388.45" y1="544" x2="388.45" y2="556" stroke="#1e1e1e" stroke-width="0.75"/>
<line x1="387.15" y1="544" x2="389.75" y2="544" stroke="#1e1e1e" stroke-width="0.75"/>
<line x1="387.15" y1="556" x2="389.75" y2="556" stroke="#1e1e1e" stroke-width="0.75"/>
<circle cx="386.45" cy="545.4" r="1.3" fill="none" stroke="#1a1a1a" stroke-width="0.95"/>
<circle cx="389.95" cy="545.4" r="1.3" fill="none" stroke="#1a1a1a" stroke-width="0.95"/>
<circle cx="386.45" cy="550.2" r="1.3" fill="none" stroke="#1a1a1a" stroke-width="0.95"/>
<circle cx="389.95" cy="550.2" r="1.3" fill="none" stroke="#1a1a1a" stroke-width="0.95"/>
<circle cx="388.45" cy="555.1" r="1.3" fill="none" stroke="#1a1a1a" stroke-width="0.95"/>
<circle cx="388.45" cy="559.2" r="1.3" fill="none" stroke="#1a1a1a" stroke-width="0.95"/>
<line x1="404.05" y1="559" x2="404.05" y2="569" stroke="#1e1e1e" stroke-width="0.75"/>
<line x1="402.75" y1="559" x2="405.35" y2="559" stroke="#1e1e1e" stroke-width="0.75"/>
<line x1="402.75" y1="569" x2="405.35" y2="569" stroke="#1e1e1e" stroke-width="0.75"/>
<circle cx="406.55" cy="556.9" r="1.5" fill="#1a1a1a"/>
<circle cx="402.05" cy="559.9" r="1.5" fill="#1a1a1a"/>
<circle cx="404.05" cy="564.1" r="1.5" fill="#1a1a1a"/>
<circle cx="404.05" cy="568.2" r="1.5" fill="#1a1a1a"/>
<line x1="413.05" y1="547" x2="413.05" y2="561" stroke="#1e1e1e" stroke-width="0.75"/>
<line x1="411.75" y1="547" x2="414.35" y2="547" stroke="#1e1e1e" stroke-width="0.75"/>
<line x1="411.75" y1="561" x2="414.35" y2="561" stroke="#1e1e1e" stroke-width="0.75"/>
<circle cx="414.55" cy="545.4" r="1.3" fill="none" stroke="#1a1a1a" stroke-width="0.95"/>
<circle cx="412.05" cy="548.2" r="1.3" fill="none" stroke="#1a1a1a" stroke-width="0.95"/>
<circle cx="413.05" cy="554.4" r="1.3" fill="none" stroke="#1a1a1a" stroke-width="0.95"/>
<circle cx="411.55" cy="556.5" r="1.3" fill="none" stroke="#1a1a1a" stroke-width="0.95"/>
<circle cx="414.55" cy="559.2" r="1.3" fill="none" stroke="#1a1a1a" stroke-width="0.95"/>
<circle cx="413.05" cy="557.8" r="1.3" fill="none" stroke="#1a1a1a" stroke-width="0.95"/>
<text x="387.2" y="544.4" font-size="7" fill="#333" text-anchor="middle" font-weight="bold">*</text>
<text x="389.8" y="544.4" font-size="7" fill="#333" text-anchor="middle" font-weight="bold">*</text>
<text x="413" y="545.2" font-size="7" fill="#333" text-anchor="middle" font-weight="bold">*</text>
<circle cx="354.7" cy="528.2" r="1.5" fill="#1a1a1a"/>
<text x="358.8" y="530.5" font-size="6.3" fill="#d23c5a" textLength="25.4" lengthAdjust="spacingAndGlyphs">Scramble</text>
<circle cx="389.3" cy="528.2" r="1.4" fill="none" stroke="#1a1a1a" stroke-width="1.15"/>
<text x="393.5" y="530.5" font-size="6.3" fill="#5cb85a" textLength="19.6" lengthAdjust="spacingAndGlyphs">shAreg</text>
<rect x="0.5" y="0.5" width="519" height="612" fill="none" stroke="#505050" stroke-width="1"/>
</g>
</svg></body></html>
